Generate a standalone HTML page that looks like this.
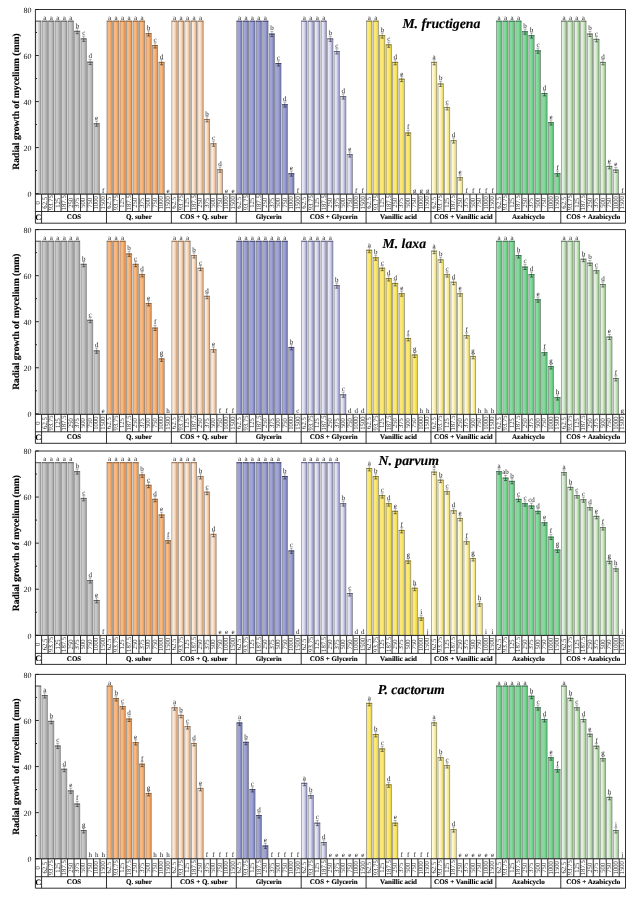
<!DOCTYPE html><html><head><meta charset="utf-8"><style>html,body{margin:0;padding:0;background:#fff;}svg{display:block;}text{font-family:"Liberation Serif",serif;text-rendering:geometricPrecision;}</style></head><body>
<svg style="will-change:transform" width="634" height="897" viewBox="0 0 634 897">
<defs>
<linearGradient id="gC" x1="0" y1="0" x2="1" y2="0"><stop offset="0" stop-color="#dcdcdc"/><stop offset="0.3" stop-color="#f2f2f2"/><stop offset="1" stop-color="#a8a8a8"/></linearGradient>
<linearGradient id="gCOS" x1="0" y1="0" x2="1" y2="0"><stop offset="0" stop-color="#cecece"/><stop offset="0.5" stop-color="#c4c4c4"/><stop offset="1" stop-color="#9c9c9c"/></linearGradient>
<linearGradient id="gQ" x1="0" y1="0" x2="1" y2="0"><stop offset="0" stop-color="#f2b486"/><stop offset="0.45" stop-color="#f8bb80"/><stop offset="1" stop-color="#e68c48"/></linearGradient>
<linearGradient id="gCQ" x1="0" y1="0" x2="1" y2="0"><stop offset="0" stop-color="#fff4ea"/><stop offset="0.45" stop-color="#fbe2ca"/><stop offset="1" stop-color="#e2a470"/></linearGradient>
<linearGradient id="gG" x1="0" y1="0" x2="1" y2="0"><stop offset="0" stop-color="#a8acda"/><stop offset="0.5" stop-color="#9ca0d2"/><stop offset="1" stop-color="#6870b6"/></linearGradient>
<linearGradient id="gCG" x1="0" y1="0" x2="1" y2="0"><stop offset="0" stop-color="#efeffa"/><stop offset="0.45" stop-color="#dcdcf0"/><stop offset="1" stop-color="#8a8ec6"/></linearGradient>
<linearGradient id="gV" x1="0" y1="0" x2="1" y2="0"><stop offset="0" stop-color="#f7e480"/><stop offset="0.5" stop-color="#fbeb74"/><stop offset="1" stop-color="#eacf34"/></linearGradient>
<linearGradient id="gCV" x1="0" y1="0" x2="1" y2="0"><stop offset="0" stop-color="#fffff2"/><stop offset="0.45" stop-color="#fdf5c2"/><stop offset="1" stop-color="#ecda56"/></linearGradient>
<linearGradient id="gA" x1="0" y1="0" x2="1" y2="0"><stop offset="0" stop-color="#8ee0a4"/><stop offset="0.5" stop-color="#80d898"/><stop offset="1" stop-color="#50ba6a"/></linearGradient>
<linearGradient id="gCA" x1="0" y1="0" x2="1" y2="0"><stop offset="0" stop-color="#eef8ec"/><stop offset="0.45" stop-color="#d9ecd3"/><stop offset="1" stop-color="#86c276"/></linearGradient>
</defs>
<rect x="0" y="0" width="634" height="897" fill="#fff"/>
<g stroke="#777" stroke-width="0.6"><rect x="35.60" y="21.01" width="5.3" height="173.09" fill="url(#gC)"/><rect x="42.09" y="21.01" width="5.3" height="173.09" fill="url(#gCOS)"/><rect x="48.58" y="21.01" width="5.3" height="173.09" fill="url(#gCOS)"/><rect x="55.07" y="21.01" width="5.3" height="173.09" fill="url(#gCOS)"/><rect x="61.56" y="21.01" width="5.3" height="173.09" fill="url(#gCOS)"/><rect x="68.05" y="21.01" width="5.3" height="173.09" fill="url(#gCOS)"/><rect x="74.54" y="31.13" width="5.3" height="162.97" fill="url(#gCOS)"/><rect x="81.03" y="38.73" width="5.3" height="155.37" fill="url(#gCOS)"/><rect x="87.52" y="61.97" width="5.3" height="132.13" fill="url(#gCOS)"/><rect x="94.01" y="123.64" width="5.3" height="70.46" fill="url(#gCOS)"/><rect x="106.99" y="21.01" width="5.3" height="173.09" fill="url(#gQ)"/><rect x="113.48" y="21.01" width="5.3" height="173.09" fill="url(#gQ)"/><rect x="119.97" y="21.01" width="5.3" height="173.09" fill="url(#gQ)"/><rect x="126.46" y="21.01" width="5.3" height="173.09" fill="url(#gQ)"/><rect x="132.95" y="21.01" width="5.3" height="173.09" fill="url(#gQ)"/><rect x="139.44" y="21.01" width="5.3" height="173.09" fill="url(#gQ)"/><rect x="145.93" y="33.43" width="5.3" height="160.67" fill="url(#gQ)"/><rect x="152.42" y="45.40" width="5.3" height="148.70" fill="url(#gQ)"/><rect x="158.91" y="62.20" width="5.3" height="131.90" fill="url(#gQ)"/><rect x="171.89" y="21.01" width="5.3" height="173.09" fill="url(#gCQ)"/><rect x="178.38" y="21.01" width="5.3" height="173.09" fill="url(#gCQ)"/><rect x="184.87" y="21.01" width="5.3" height="173.09" fill="url(#gCQ)"/><rect x="191.36" y="21.01" width="5.3" height="173.09" fill="url(#gCQ)"/><rect x="197.85" y="21.01" width="5.3" height="173.09" fill="url(#gCQ)"/><rect x="204.34" y="119.27" width="5.3" height="74.83" fill="url(#gCQ)"/><rect x="210.83" y="143.66" width="5.3" height="50.44" fill="url(#gCQ)"/><rect x="217.32" y="169.67" width="5.3" height="24.43" fill="url(#gCQ)"/><rect x="236.79" y="21.01" width="5.3" height="173.09" fill="url(#gG)"/><rect x="243.28" y="21.01" width="5.3" height="173.09" fill="url(#gG)"/><rect x="249.77" y="21.01" width="5.3" height="173.09" fill="url(#gG)"/><rect x="256.26" y="21.01" width="5.3" height="173.09" fill="url(#gG)"/><rect x="262.75" y="21.01" width="5.3" height="173.09" fill="url(#gG)"/><rect x="269.24" y="33.89" width="5.3" height="160.21" fill="url(#gG)"/><rect x="275.73" y="63.35" width="5.3" height="130.75" fill="url(#gG)"/><rect x="282.22" y="104.54" width="5.3" height="89.56" fill="url(#gG)"/><rect x="288.71" y="173.58" width="5.3" height="20.52" fill="url(#gG)"/><rect x="301.69" y="21.01" width="5.3" height="173.09" fill="url(#gCG)"/><rect x="308.18" y="21.01" width="5.3" height="173.09" fill="url(#gCG)"/><rect x="314.67" y="21.01" width="5.3" height="173.09" fill="url(#gCG)"/><rect x="321.16" y="21.01" width="5.3" height="173.09" fill="url(#gCG)"/><rect x="327.65" y="38.73" width="5.3" height="155.37" fill="url(#gCG)"/><rect x="334.14" y="51.38" width="5.3" height="142.72" fill="url(#gCG)"/><rect x="340.63" y="96.49" width="5.3" height="97.61" fill="url(#gCG)"/><rect x="347.12" y="154.48" width="5.3" height="39.62" fill="url(#gCG)"/><rect x="366.59" y="21.01" width="5.3" height="173.09" fill="url(#gV)"/><rect x="373.08" y="21.01" width="5.3" height="173.09" fill="url(#gV)"/><rect x="379.57" y="35.50" width="5.3" height="158.60" fill="url(#gV)"/><rect x="386.06" y="44.71" width="5.3" height="149.39" fill="url(#gV)"/><rect x="392.55" y="62.20" width="5.3" height="131.90" fill="url(#gV)"/><rect x="399.04" y="79.00" width="5.3" height="115.10" fill="url(#gV)"/><rect x="405.53" y="132.85" width="5.3" height="61.25" fill="url(#gV)"/><rect x="431.49" y="62.20" width="5.3" height="131.90" fill="url(#gCV)"/><rect x="437.98" y="83.83" width="5.3" height="110.27" fill="url(#gCV)"/><rect x="444.47" y="107.30" width="5.3" height="86.80" fill="url(#gCV)"/><rect x="450.96" y="140.44" width="5.3" height="53.66" fill="url(#gCV)"/><rect x="457.45" y="177.49" width="5.3" height="16.61" fill="url(#gCV)"/><rect x="496.39" y="21.01" width="5.3" height="173.09" fill="url(#gA)"/><rect x="502.88" y="21.01" width="5.3" height="173.09" fill="url(#gA)"/><rect x="509.37" y="21.01" width="5.3" height="173.09" fill="url(#gA)"/><rect x="515.86" y="21.01" width="5.3" height="173.09" fill="url(#gA)"/><rect x="522.35" y="31.59" width="5.3" height="162.51" fill="url(#gA)"/><rect x="528.84" y="35.50" width="5.3" height="158.60" fill="url(#gA)"/><rect x="535.33" y="50.69" width="5.3" height="143.41" fill="url(#gA)"/><rect x="541.82" y="93.27" width="5.3" height="100.83" fill="url(#gA)"/><rect x="548.31" y="122.49" width="5.3" height="71.61" fill="url(#gA)"/><rect x="554.80" y="173.58" width="5.3" height="20.52" fill="url(#gA)"/><rect x="561.29" y="21.01" width="5.3" height="173.09" fill="url(#gCA)"/><rect x="567.78" y="21.01" width="5.3" height="173.09" fill="url(#gCA)"/><rect x="574.27" y="21.01" width="5.3" height="173.09" fill="url(#gCA)"/><rect x="580.76" y="21.01" width="5.3" height="173.09" fill="url(#gCA)"/><rect x="587.25" y="33.89" width="5.3" height="160.21" fill="url(#gCA)"/><rect x="593.74" y="39.19" width="5.3" height="154.91" fill="url(#gCA)"/><rect x="600.23" y="62.20" width="5.3" height="131.90" fill="url(#gCA)"/><rect x="606.72" y="166.22" width="5.3" height="27.88" fill="url(#gCA)"/><rect x="613.21" y="169.90" width="5.3" height="24.20" fill="url(#gCA)"/></g>
<g stroke-width="0.8" fill="none"><path d="M35.40 21.21H41.10" stroke="#505050"/><path d="M41.89 21.21H47.59" stroke="#505050"/><path d="M48.38 21.21H54.08" stroke="#505050"/><path d="M54.87 21.21H60.57" stroke="#505050"/><path d="M61.36 21.21H67.06" stroke="#505050"/><path d="M67.85 21.21H73.55" stroke="#505050"/><path d="M74.34 31.33H80.04" stroke="#505050"/><path d="M80.83 38.93H86.53" stroke="#505050"/><path d="M87.32 62.17H93.02" stroke="#505050"/><path d="M93.81 123.84H99.51" stroke="#505050"/><path d="M106.79 21.21H112.49" stroke="#a05a20"/><path d="M113.28 21.21H118.98" stroke="#a05a20"/><path d="M119.77 21.21H125.47" stroke="#a05a20"/><path d="M126.26 21.21H131.96" stroke="#a05a20"/><path d="M132.75 21.21H138.45" stroke="#a05a20"/><path d="M139.24 21.21H144.94" stroke="#a05a20"/><path d="M145.73 33.63H151.43" stroke="#a05a20"/><path d="M152.22 45.60H157.92" stroke="#a05a20"/><path d="M158.71 62.40H164.41" stroke="#a05a20"/><path d="M171.69 21.21H177.39" stroke="#a06a40"/><path d="M178.18 21.21H183.88" stroke="#a06a40"/><path d="M184.67 21.21H190.37" stroke="#a06a40"/><path d="M191.16 21.21H196.86" stroke="#a06a40"/><path d="M197.65 21.21H203.35" stroke="#a06a40"/><path d="M204.14 119.47H209.84" stroke="#a06a40"/><path d="M210.63 143.86H216.33" stroke="#a06a40"/><path d="M217.12 169.87H222.82" stroke="#a06a40"/><path d="M236.59 21.21H242.29" stroke="#303068"/><path d="M243.08 21.21H248.78" stroke="#303068"/><path d="M249.57 21.21H255.27" stroke="#303068"/><path d="M256.06 21.21H261.76" stroke="#303068"/><path d="M262.55 21.21H268.25" stroke="#303068"/><path d="M269.04 34.09H274.74" stroke="#303068"/><path d="M275.53 63.55H281.23" stroke="#303068"/><path d="M282.02 104.74H287.72" stroke="#303068"/><path d="M288.51 173.78H294.21" stroke="#303068"/><path d="M301.49 21.21H307.19" stroke="#505080"/><path d="M307.98 21.21H313.68" stroke="#505080"/><path d="M314.47 21.21H320.17" stroke="#505080"/><path d="M320.96 21.21H326.66" stroke="#505080"/><path d="M327.45 38.93H333.15" stroke="#505080"/><path d="M333.94 51.58H339.64" stroke="#505080"/><path d="M340.43 96.69H346.13" stroke="#505080"/><path d="M346.92 154.68H352.62" stroke="#505080"/><path d="M366.39 21.21H372.09" stroke="#8a7a10"/><path d="M372.88 21.21H378.58" stroke="#8a7a10"/><path d="M379.37 35.70H385.07" stroke="#8a7a10"/><path d="M385.86 44.91H391.56" stroke="#8a7a10"/><path d="M392.35 62.40H398.05" stroke="#8a7a10"/><path d="M398.84 79.20H404.54" stroke="#8a7a10"/><path d="M405.33 133.05H411.03" stroke="#8a7a10"/><path d="M431.29 62.40H436.99" stroke="#8a8030"/><path d="M437.78 84.03H443.48" stroke="#8a8030"/><path d="M444.27 107.50H449.97" stroke="#8a8030"/><path d="M450.76 140.64H456.46" stroke="#8a8030"/><path d="M457.25 177.69H462.95" stroke="#8a8030"/><path d="M496.19 21.21H501.89" stroke="#207040"/><path d="M502.68 21.21H508.38" stroke="#207040"/><path d="M509.17 21.21H514.87" stroke="#207040"/><path d="M515.66 21.21H521.36" stroke="#207040"/><path d="M522.15 31.79H527.85" stroke="#207040"/><path d="M528.64 35.70H534.34" stroke="#207040"/><path d="M535.13 50.89H540.83" stroke="#207040"/><path d="M541.62 93.47H547.32" stroke="#207040"/><path d="M548.11 122.69H553.81" stroke="#207040"/><path d="M554.60 173.78H560.30" stroke="#207040"/><path d="M561.09 21.21H566.79" stroke="#507050"/><path d="M567.58 21.21H573.28" stroke="#507050"/><path d="M574.07 21.21H579.77" stroke="#507050"/><path d="M580.56 21.21H586.26" stroke="#507050"/><path d="M587.05 34.09H592.75" stroke="#507050"/><path d="M593.54 39.39H599.24" stroke="#507050"/><path d="M600.03 62.40H605.73" stroke="#507050"/><path d="M606.52 166.42H612.22" stroke="#507050"/><path d="M613.01 170.10H618.71" stroke="#507050"/></g>
<g stroke="#1a1a1a" stroke-width="0.55" fill="none"><path d="M75.59 28.53H78.79M77.19 28.53V31.13" stroke="#555" stroke-width="0.45"/><path d="M77.19 31.13V33.73M75.59 33.73H78.79"/><path d="M82.08 36.13H85.28M83.68 36.13V38.73" stroke="#555" stroke-width="0.45"/><path d="M83.68 38.73V41.33M82.08 41.33H85.28"/><path d="M88.57 59.37H91.77M90.17 59.37V61.97" stroke="#555" stroke-width="0.45"/><path d="M90.17 61.97V64.57M88.57 64.57H91.77"/><path d="M95.06 121.04H98.26M96.66 121.04V123.64" stroke="#555" stroke-width="0.45"/><path d="M96.66 123.64V126.24M95.06 126.24H98.26"/><path d="M146.98 30.83H150.18M148.58 30.83V33.43" stroke="#555" stroke-width="0.45"/><path d="M148.58 33.43V36.03M146.98 36.03H150.18"/><path d="M153.47 42.80H156.67M155.07 42.80V45.40" stroke="#555" stroke-width="0.45"/><path d="M155.07 45.40V48.00M153.47 48.00H156.67"/><path d="M159.96 59.60H163.16M161.56 59.60V62.20" stroke="#555" stroke-width="0.45"/><path d="M161.56 62.20V64.80M159.96 64.80H163.16"/><path d="M205.39 116.67H208.59M206.99 116.67V119.27" stroke="#555" stroke-width="0.45"/><path d="M206.99 119.27V121.87M205.39 121.87H208.59"/><path d="M211.88 141.06H215.08M213.48 141.06V143.66" stroke="#555" stroke-width="0.45"/><path d="M213.48 143.66V146.26M211.88 146.26H215.08"/><path d="M218.37 167.07H221.57M219.97 167.07V169.67" stroke="#555" stroke-width="0.45"/><path d="M219.97 169.67V172.27M218.37 172.27H221.57"/><path d="M270.29 31.29H273.49M271.89 31.29V33.89" stroke="#555" stroke-width="0.45"/><path d="M271.89 33.89V36.49M270.29 36.49H273.49"/><path d="M276.78 60.75H279.98M278.38 60.75V63.35" stroke="#555" stroke-width="0.45"/><path d="M278.38 63.35V65.95M276.78 65.95H279.98"/><path d="M283.27 101.94H286.47M284.87 101.94V104.54" stroke="#555" stroke-width="0.45"/><path d="M284.87 104.54V107.14M283.27 107.14H286.47"/><path d="M289.76 170.98H292.96M291.36 170.98V173.58" stroke="#555" stroke-width="0.45"/><path d="M291.36 173.58V176.18M289.76 176.18H292.96"/><path d="M328.70 36.13H331.90M330.30 36.13V38.73" stroke="#555" stroke-width="0.45"/><path d="M330.30 38.73V41.33M328.70 41.33H331.90"/><path d="M335.19 48.78H338.39M336.79 48.78V51.38" stroke="#555" stroke-width="0.45"/><path d="M336.79 51.38V53.98M335.19 53.98H338.39"/><path d="M341.68 93.89H344.88M343.28 93.89V96.49" stroke="#555" stroke-width="0.45"/><path d="M343.28 96.49V99.09M341.68 99.09H344.88"/><path d="M348.17 151.88H351.37M349.77 151.88V154.48" stroke="#555" stroke-width="0.45"/><path d="M349.77 154.48V157.08M348.17 157.08H351.37"/><path d="M380.62 32.90H383.82M382.22 32.90V35.50" stroke="#555" stroke-width="0.45"/><path d="M382.22 35.50V38.10M380.62 38.10H383.82"/><path d="M387.11 42.11H390.31M388.71 42.11V44.71" stroke="#555" stroke-width="0.45"/><path d="M388.71 44.71V47.31M387.11 47.31H390.31"/><path d="M393.60 59.60H396.80M395.20 59.60V62.20" stroke="#555" stroke-width="0.45"/><path d="M395.20 62.20V64.80M393.60 64.80H396.80"/><path d="M400.09 76.40H403.29M401.69 76.40V79.00" stroke="#555" stroke-width="0.45"/><path d="M401.69 79.00V81.60M400.09 81.60H403.29"/><path d="M406.58 130.25H409.78M408.18 130.25V132.85" stroke="#555" stroke-width="0.45"/><path d="M408.18 132.85V135.45M406.58 135.45H409.78"/><path d="M432.54 59.60H435.74M434.14 59.60V62.20" stroke="#555" stroke-width="0.45"/><path d="M434.14 62.20V64.80M432.54 64.80H435.74"/><path d="M439.03 81.23H442.23M440.63 81.23V83.83" stroke="#555" stroke-width="0.45"/><path d="M440.63 83.83V86.43M439.03 86.43H442.23"/><path d="M445.52 104.70H448.72M447.12 104.70V107.30" stroke="#555" stroke-width="0.45"/><path d="M447.12 107.30V109.90M445.52 109.90H448.72"/><path d="M452.01 137.84H455.21M453.61 137.84V140.44" stroke="#555" stroke-width="0.45"/><path d="M453.61 140.44V143.04M452.01 143.04H455.21"/><path d="M458.50 174.89H461.70M460.10 174.89V177.49" stroke="#555" stroke-width="0.45"/><path d="M460.10 177.49V180.09M458.50 180.09H461.70"/><path d="M523.40 28.99H526.60M525.00 28.99V31.59" stroke="#555" stroke-width="0.45"/><path d="M525.00 31.59V34.19M523.40 34.19H526.60"/><path d="M529.89 32.90H533.09M531.49 32.90V35.50" stroke="#555" stroke-width="0.45"/><path d="M531.49 35.50V38.10M529.89 38.10H533.09"/><path d="M536.38 48.09H539.58M537.98 48.09V50.69" stroke="#555" stroke-width="0.45"/><path d="M537.98 50.69V53.29M536.38 53.29H539.58"/><path d="M542.87 90.67H546.07M544.47 90.67V93.27" stroke="#555" stroke-width="0.45"/><path d="M544.47 93.27V95.87M542.87 95.87H546.07"/><path d="M549.36 119.89H552.56M550.96 119.89V122.49" stroke="#555" stroke-width="0.45"/><path d="M550.96 122.49V125.09M549.36 125.09H552.56"/><path d="M555.85 170.98H559.05M557.45 170.98V173.58" stroke="#555" stroke-width="0.45"/><path d="M557.45 173.58V176.18M555.85 176.18H559.05"/><path d="M588.30 31.29H591.50M589.90 31.29V33.89" stroke="#555" stroke-width="0.45"/><path d="M589.90 33.89V36.49M588.30 36.49H591.50"/><path d="M594.79 36.59H597.99M596.39 36.59V39.19" stroke="#555" stroke-width="0.45"/><path d="M596.39 39.19V41.79M594.79 41.79H597.99"/><path d="M601.28 59.60H604.48M602.88 59.60V62.20" stroke="#555" stroke-width="0.45"/><path d="M602.88 62.20V64.80M601.28 64.80H604.48"/><path d="M607.77 163.62H610.97M609.37 163.62V166.22" stroke="#555" stroke-width="0.45"/><path d="M609.37 166.22V168.82M607.77 168.82H610.97"/><path d="M614.26 167.30H617.46M615.86 167.30V169.90" stroke="#555" stroke-width="0.45"/><path d="M615.86 169.90V172.50M614.26 172.50H617.46"/></g>
<g font-size="7" fill="#1a1a1a" text-anchor="middle"><text x="44.74" y="19.86">a</text><text x="51.23" y="19.86">a</text><text x="57.72" y="19.86">a</text><text x="64.21" y="19.86">a</text><text x="70.70" y="19.86">a</text><text x="77.19" y="27.63">b</text><text x="83.68" y="35.23">c</text><text x="90.17" y="58.47">d</text><text x="96.66" y="120.14">e</text><text x="103.15" y="192.60">f</text><text x="109.64" y="19.86">a</text><text x="116.13" y="19.86">a</text><text x="122.62" y="19.86">a</text><text x="129.11" y="19.86">a</text><text x="135.60" y="19.86">a</text><text x="142.09" y="19.86">a</text><text x="148.58" y="29.93">b</text><text x="155.07" y="41.90">c</text><text x="161.56" y="58.70">d</text><text x="168.05" y="192.60">e</text><text x="174.54" y="19.86">a</text><text x="181.03" y="19.86">a</text><text x="187.52" y="19.86">a</text><text x="194.01" y="19.86">a</text><text x="200.50" y="19.86">a</text><text x="206.99" y="115.77">b</text><text x="213.48" y="140.16">c</text><text x="219.97" y="166.17">d</text><text x="226.46" y="192.60">e</text><text x="232.95" y="192.60">e</text><text x="239.44" y="19.86">a</text><text x="245.93" y="19.86">a</text><text x="252.42" y="19.86">a</text><text x="258.91" y="19.86">a</text><text x="265.40" y="19.86">a</text><text x="271.89" y="30.39">b</text><text x="278.38" y="59.85">c</text><text x="284.87" y="101.04">d</text><text x="291.36" y="170.08">e</text><text x="297.85" y="192.60">f</text><text x="304.34" y="19.86">a</text><text x="310.83" y="19.86">a</text><text x="317.32" y="19.86">a</text><text x="323.81" y="19.86">a</text><text x="330.30" y="35.23">b</text><text x="336.79" y="47.88">c</text><text x="343.28" y="92.99">d</text><text x="349.77" y="150.98">e</text><text x="356.26" y="192.60">f</text><text x="362.75" y="192.60">f</text><text x="369.24" y="19.86">a</text><text x="375.73" y="19.86">a</text><text x="382.22" y="32.00">b</text><text x="388.71" y="41.21">c</text><text x="395.20" y="58.70">d</text><text x="401.69" y="75.50">e</text><text x="408.18" y="129.35">f</text><text x="414.67" y="192.60">g</text><text x="421.16" y="192.60">g</text><text x="427.65" y="192.60">g</text><text x="434.14" y="58.70">a</text><text x="440.63" y="80.33">b</text><text x="447.12" y="103.80">c</text><text x="453.61" y="136.94">d</text><text x="460.10" y="173.99">e</text><text x="466.59" y="192.60">f</text><text x="473.08" y="192.60">f</text><text x="479.57" y="192.60">f</text><text x="486.06" y="192.60">f</text><text x="492.55" y="192.60">f</text><text x="499.04" y="19.86">a</text><text x="505.53" y="19.86">a</text><text x="512.02" y="19.86">a</text><text x="518.51" y="19.86">a</text><text x="525.00" y="28.09">b</text><text x="531.49" y="32.00">b</text><text x="537.98" y="47.19">c</text><text x="544.47" y="89.77">d</text><text x="550.96" y="118.99">e</text><text x="557.45" y="170.08">f</text><text x="563.94" y="19.86">a</text><text x="570.43" y="19.86">a</text><text x="576.92" y="19.86">a</text><text x="583.41" y="19.86">a</text><text x="589.90" y="30.39">b</text><text x="596.39" y="35.69">c</text><text x="602.88" y="58.70">d</text><text x="609.37" y="162.72">e</text><text x="615.86" y="166.40">e</text><text x="622.35" y="192.60">f</text></g>
<path d="M35.4 9.5H625.5M35.4 194.1H625.5M35.4 211.5H625.5M35.4 223.2H625.5M35.4 9.5V223.2M625.5 9.5V223.2M41.59 194.1V211.5M48.08 194.1V211.5M54.57 194.1V211.5M61.06 194.1V211.5M67.55 194.1V211.5M74.04 194.1V211.5M80.53 194.1V211.5M87.02 194.1V211.5M93.51 194.1V211.5M100.00 194.1V211.5M106.49 194.1V211.5M112.98 194.1V211.5M119.47 194.1V211.5M125.96 194.1V211.5M132.45 194.1V211.5M138.94 194.1V211.5M145.43 194.1V211.5M151.92 194.1V211.5M158.41 194.1V211.5M164.90 194.1V211.5M171.39 194.1V211.5M177.88 194.1V211.5M184.37 194.1V211.5M190.86 194.1V211.5M197.35 194.1V211.5M203.84 194.1V211.5M210.33 194.1V211.5M216.82 194.1V211.5M223.31 194.1V211.5M229.80 194.1V211.5M236.29 194.1V211.5M242.78 194.1V211.5M249.27 194.1V211.5M255.76 194.1V211.5M262.25 194.1V211.5M268.74 194.1V211.5M275.23 194.1V211.5M281.72 194.1V211.5M288.21 194.1V211.5M294.70 194.1V211.5M301.19 194.1V211.5M307.68 194.1V211.5M314.17 194.1V211.5M320.66 194.1V211.5M327.15 194.1V211.5M333.64 194.1V211.5M340.13 194.1V211.5M346.62 194.1V211.5M353.11 194.1V211.5M359.60 194.1V211.5M366.09 194.1V211.5M372.58 194.1V211.5M379.07 194.1V211.5M385.56 194.1V211.5M392.05 194.1V211.5M398.54 194.1V211.5M405.03 194.1V211.5M411.52 194.1V211.5M418.01 194.1V211.5M424.50 194.1V211.5M430.99 194.1V211.5M437.48 194.1V211.5M443.97 194.1V211.5M450.46 194.1V211.5M456.95 194.1V211.5M463.44 194.1V211.5M469.93 194.1V211.5M476.42 194.1V211.5M482.91 194.1V211.5M489.40 194.1V211.5M495.89 194.1V211.5M502.38 194.1V211.5M508.87 194.1V211.5M515.36 194.1V211.5M521.85 194.1V211.5M528.34 194.1V211.5M534.83 194.1V211.5M541.32 194.1V211.5M547.81 194.1V211.5M554.30 194.1V211.5M560.79 194.1V211.5M567.28 194.1V211.5M573.77 194.1V211.5M580.26 194.1V211.5M586.75 194.1V211.5M593.24 194.1V211.5M599.73 194.1V211.5M606.22 194.1V211.5M612.71 194.1V211.5M619.20 194.1V211.5M41.59 211.5V223.2M106.49 211.5V223.2M171.39 211.5V223.2M236.29 211.5V223.2M301.19 211.5V223.2M366.09 211.5V223.2M430.99 211.5V223.2M495.89 211.5V223.2M560.79 211.5V223.2M35.4 193.60h3.4M35.4 170.59h1.6M35.4 147.57h3.4M35.4 124.56h1.6M35.4 101.55h3.4M35.4 78.54h1.6M35.4 55.53h3.4M35.4 32.51h1.6M35.4 9.50h3.4" stroke="#1a1a1a" stroke-width="0.9" fill="none"/>
<g font-size="8" fill="#111" text-anchor="end"><text x="31.4" y="196.80">0</text><text x="31.4" y="150.77">20</text><text x="31.4" y="104.75">40</text><text x="31.4" y="58.73">60</text><text x="31.4" y="12.70">80</text></g>
<g font-size="6.7" fill="#2a2a2a" text-anchor="middle"><text transform="translate(40.05 202.80) rotate(-90)">0</text><text transform="translate(46.54 202.80) rotate(-90)">62.5</text><text transform="translate(53.02 202.80) rotate(-90)">93.75</text><text transform="translate(59.52 202.80) rotate(-90)">125</text><text transform="translate(66.01 202.80) rotate(-90)">187.5</text><text transform="translate(72.50 202.80) rotate(-90)">250</text><text transform="translate(78.98 202.80) rotate(-90)">375</text><text transform="translate(85.48 202.80) rotate(-90)">500</text><text transform="translate(91.97 202.80) rotate(-90)">750</text><text transform="translate(98.46 202.80) rotate(-90)">1000</text><text transform="translate(104.95 202.80) rotate(-90)">1500</text><text transform="translate(111.44 202.80) rotate(-90)">62.5</text><text transform="translate(117.92 202.80) rotate(-90)">93.75</text><text transform="translate(124.42 202.80) rotate(-90)">125</text><text transform="translate(130.91 202.80) rotate(-90)">187.5</text><text transform="translate(137.40 202.80) rotate(-90)">250</text><text transform="translate(143.88 202.80) rotate(-90)">375</text><text transform="translate(150.38 202.80) rotate(-90)">500</text><text transform="translate(156.87 202.80) rotate(-90)">750</text><text transform="translate(163.35 202.80) rotate(-90)">1000</text><text transform="translate(169.84 202.80) rotate(-90)">1500</text><text transform="translate(176.33 202.80) rotate(-90)">62.5</text><text transform="translate(182.82 202.80) rotate(-90)">93.75</text><text transform="translate(189.31 202.80) rotate(-90)">125</text><text transform="translate(195.80 202.80) rotate(-90)">187.5</text><text transform="translate(202.29 202.80) rotate(-90)">250</text><text transform="translate(208.78 202.80) rotate(-90)">375</text><text transform="translate(215.28 202.80) rotate(-90)">500</text><text transform="translate(221.76 202.80) rotate(-90)">750</text><text transform="translate(228.25 202.80) rotate(-90)">1000</text><text transform="translate(234.75 202.80) rotate(-90)">1500</text><text transform="translate(241.23 202.80) rotate(-90)">62.5</text><text transform="translate(247.72 202.80) rotate(-90)">93.75</text><text transform="translate(254.22 202.80) rotate(-90)">125</text><text transform="translate(260.70 202.80) rotate(-90)">187.5</text><text transform="translate(267.19 202.80) rotate(-90)">250</text><text transform="translate(273.69 202.80) rotate(-90)">375</text><text transform="translate(280.18 202.80) rotate(-90)">500</text><text transform="translate(286.67 202.80) rotate(-90)">750</text><text transform="translate(293.16 202.80) rotate(-90)">1000</text><text transform="translate(299.65 202.80) rotate(-90)">1500</text><text transform="translate(306.14 202.80) rotate(-90)">62.5</text><text transform="translate(312.62 202.80) rotate(-90)">93.75</text><text transform="translate(319.12 202.80) rotate(-90)">125</text><text transform="translate(325.61 202.80) rotate(-90)">187.5</text><text transform="translate(332.10 202.80) rotate(-90)">250</text><text transform="translate(338.59 202.80) rotate(-90)">375</text><text transform="translate(345.08 202.80) rotate(-90)">500</text><text transform="translate(351.56 202.80) rotate(-90)">750</text><text transform="translate(358.06 202.80) rotate(-90)">1000</text><text transform="translate(364.55 202.80) rotate(-90)">1500</text><text transform="translate(371.04 202.80) rotate(-90)">62.5</text><text transform="translate(377.53 202.80) rotate(-90)">93.75</text><text transform="translate(384.02 202.80) rotate(-90)">125</text><text transform="translate(390.51 202.80) rotate(-90)">187.5</text><text transform="translate(397.00 202.80) rotate(-90)">250</text><text transform="translate(403.49 202.80) rotate(-90)">375</text><text transform="translate(409.98 202.80) rotate(-90)">500</text><text transform="translate(416.47 202.80) rotate(-90)">750</text><text transform="translate(422.96 202.80) rotate(-90)">1000</text><text transform="translate(429.45 202.80) rotate(-90)">1500</text><text transform="translate(435.94 202.80) rotate(-90)">62.5</text><text transform="translate(442.43 202.80) rotate(-90)">93.75</text><text transform="translate(448.92 202.80) rotate(-90)">125</text><text transform="translate(455.41 202.80) rotate(-90)">187.5</text><text transform="translate(461.90 202.80) rotate(-90)">250</text><text transform="translate(468.39 202.80) rotate(-90)">375</text><text transform="translate(474.88 202.80) rotate(-90)">500</text><text transform="translate(481.37 202.80) rotate(-90)">750</text><text transform="translate(487.86 202.80) rotate(-90)">1000</text><text transform="translate(494.35 202.80) rotate(-90)">1500</text><text transform="translate(500.84 202.80) rotate(-90)">62.5</text><text transform="translate(507.33 202.80) rotate(-90)">93.75</text><text transform="translate(513.82 202.80) rotate(-90)">125</text><text transform="translate(520.31 202.80) rotate(-90)">187.5</text><text transform="translate(526.80 202.80) rotate(-90)">250</text><text transform="translate(533.29 202.80) rotate(-90)">375</text><text transform="translate(539.78 202.80) rotate(-90)">500</text><text transform="translate(546.27 202.80) rotate(-90)">750</text><text transform="translate(552.76 202.80) rotate(-90)">1000</text><text transform="translate(559.25 202.80) rotate(-90)">1500</text><text transform="translate(565.74 202.80) rotate(-90)">62.5</text><text transform="translate(572.23 202.80) rotate(-90)">93.75</text><text transform="translate(578.72 202.80) rotate(-90)">125</text><text transform="translate(585.21 202.80) rotate(-90)">187.5</text><text transform="translate(591.70 202.80) rotate(-90)">250</text><text transform="translate(598.19 202.80) rotate(-90)">375</text><text transform="translate(604.68 202.80) rotate(-90)">500</text><text transform="translate(611.17 202.80) rotate(-90)">750</text><text transform="translate(617.66 202.80) rotate(-90)">1000</text><text transform="translate(624.15 202.80) rotate(-90)">1500</text></g>
<g font-size="7.0" font-weight="bold" fill="#000" stroke="#000" stroke-width="0.12" text-anchor="middle"><text x="38.39" y="220.10" font-size="8.4" stroke-width="0.05">C</text><text x="74.04" y="219.30">COS</text><text x="138.94" y="219.30">Q. suber</text><text x="203.84" y="219.30">COS + Q. suber</text><text x="268.74" y="219.30">Glycerin</text><text x="333.64" y="219.30">COS + Glycerin</text><text x="398.54" y="219.30">Vanillic acid</text><text x="463.44" y="219.30">COS + Vanillic acid</text><text x="528.34" y="219.30">Azabicyclo</text><text x="593.24" y="219.30">COS + Azabicyclo</text></g>
<text transform="translate(19.3 101.55) rotate(-90)" font-size="9.6" font-weight="bold" fill="#000" stroke="#000" stroke-width="0.15" text-anchor="middle">Radial growth of mycelium (mm)</text>
<text x="402.4" y="27.7" font-size="13.75" font-weight="bold" font-style="italic" fill="#000" stroke="#000" stroke-width="0.15">M. fructigena</text>
<g stroke="#777" stroke-width="0.6"><rect x="35.60" y="241.11" width="5.3" height="173.19" fill="url(#gC)"/><rect x="42.09" y="241.11" width="5.3" height="173.19" fill="url(#gCOS)"/><rect x="48.58" y="241.11" width="5.3" height="173.19" fill="url(#gCOS)"/><rect x="55.07" y="241.11" width="5.3" height="173.19" fill="url(#gCOS)"/><rect x="61.56" y="241.11" width="5.3" height="173.19" fill="url(#gCOS)"/><rect x="68.05" y="241.11" width="5.3" height="173.19" fill="url(#gCOS)"/><rect x="74.54" y="241.11" width="5.3" height="173.19" fill="url(#gCOS)"/><rect x="81.03" y="264.14" width="5.3" height="150.16" fill="url(#gCOS)"/><rect x="87.52" y="320.09" width="5.3" height="94.21" fill="url(#gCOS)"/><rect x="94.01" y="350.71" width="5.3" height="63.59" fill="url(#gCOS)"/><rect x="106.99" y="241.11" width="5.3" height="173.19" fill="url(#gQ)"/><rect x="113.48" y="241.11" width="5.3" height="173.19" fill="url(#gQ)"/><rect x="119.97" y="241.11" width="5.3" height="173.19" fill="url(#gQ)"/><rect x="126.46" y="253.78" width="5.3" height="160.52" fill="url(#gQ)"/><rect x="132.95" y="264.14" width="5.3" height="150.16" fill="url(#gQ)"/><rect x="139.44" y="274.27" width="5.3" height="140.03" fill="url(#gQ)"/><rect x="145.93" y="303.28" width="5.3" height="111.02" fill="url(#gQ)"/><rect x="152.42" y="327.92" width="5.3" height="86.38" fill="url(#gQ)"/><rect x="158.91" y="358.77" width="5.3" height="55.53" fill="url(#gQ)"/><rect x="171.89" y="241.11" width="5.3" height="173.19" fill="url(#gCQ)"/><rect x="178.38" y="241.11" width="5.3" height="173.19" fill="url(#gCQ)"/><rect x="184.87" y="241.11" width="5.3" height="173.19" fill="url(#gCQ)"/><rect x="191.36" y="255.39" width="5.3" height="158.91" fill="url(#gCQ)"/><rect x="197.85" y="268.05" width="5.3" height="146.25" fill="url(#gCQ)"/><rect x="204.34" y="296.14" width="5.3" height="118.16" fill="url(#gCQ)"/><rect x="210.83" y="349.56" width="5.3" height="64.74" fill="url(#gCQ)"/><rect x="236.79" y="241.11" width="5.3" height="173.19" fill="url(#gG)"/><rect x="243.28" y="241.11" width="5.3" height="173.19" fill="url(#gG)"/><rect x="249.77" y="241.11" width="5.3" height="173.19" fill="url(#gG)"/><rect x="256.26" y="241.11" width="5.3" height="173.19" fill="url(#gG)"/><rect x="262.75" y="241.11" width="5.3" height="173.19" fill="url(#gG)"/><rect x="269.24" y="241.11" width="5.3" height="173.19" fill="url(#gG)"/><rect x="275.73" y="241.11" width="5.3" height="173.19" fill="url(#gG)"/><rect x="282.22" y="241.11" width="5.3" height="173.19" fill="url(#gG)"/><rect x="288.71" y="347.26" width="5.3" height="67.04" fill="url(#gG)"/><rect x="301.69" y="241.11" width="5.3" height="173.19" fill="url(#gCG)"/><rect x="308.18" y="241.11" width="5.3" height="173.19" fill="url(#gCG)"/><rect x="314.67" y="241.11" width="5.3" height="173.19" fill="url(#gCG)"/><rect x="321.16" y="241.11" width="5.3" height="173.19" fill="url(#gCG)"/><rect x="327.65" y="241.11" width="5.3" height="173.19" fill="url(#gCG)"/><rect x="334.14" y="285.55" width="5.3" height="128.75" fill="url(#gCG)"/><rect x="340.63" y="394.69" width="5.3" height="19.61" fill="url(#gCG)"/><rect x="366.59" y="250.09" width="5.3" height="164.21" fill="url(#gV)"/><rect x="373.08" y="257.69" width="5.3" height="156.61" fill="url(#gV)"/><rect x="379.57" y="268.05" width="5.3" height="146.25" fill="url(#gV)"/><rect x="386.06" y="278.41" width="5.3" height="135.89" fill="url(#gV)"/><rect x="392.55" y="283.25" width="5.3" height="131.05" fill="url(#gV)"/><rect x="399.04" y="293.61" width="5.3" height="120.69" fill="url(#gV)"/><rect x="405.53" y="338.28" width="5.3" height="76.02" fill="url(#gV)"/><rect x="412.02" y="354.86" width="5.3" height="59.44" fill="url(#gV)"/><rect x="431.49" y="251.01" width="5.3" height="163.29" fill="url(#gCV)"/><rect x="437.98" y="259.76" width="5.3" height="154.54" fill="url(#gCV)"/><rect x="444.47" y="274.50" width="5.3" height="139.80" fill="url(#gCV)"/><rect x="450.96" y="282.10" width="5.3" height="132.20" fill="url(#gCV)"/><rect x="457.45" y="293.61" width="5.3" height="120.69" fill="url(#gCV)"/><rect x="463.94" y="335.51" width="5.3" height="78.79" fill="url(#gCV)"/><rect x="470.43" y="356.24" width="5.3" height="58.06" fill="url(#gCV)"/><rect x="496.39" y="241.11" width="5.3" height="173.19" fill="url(#gA)"/><rect x="502.88" y="241.11" width="5.3" height="173.19" fill="url(#gA)"/><rect x="509.37" y="241.11" width="5.3" height="173.19" fill="url(#gA)"/><rect x="515.86" y="255.39" width="5.3" height="158.91" fill="url(#gA)"/><rect x="522.35" y="266.90" width="5.3" height="147.40" fill="url(#gA)"/><rect x="528.84" y="274.50" width="5.3" height="139.80" fill="url(#gA)"/><rect x="535.33" y="299.60" width="5.3" height="114.70" fill="url(#gA)"/><rect x="541.82" y="352.55" width="5.3" height="61.75" fill="url(#gA)"/><rect x="548.31" y="366.37" width="5.3" height="47.93" fill="url(#gA)"/><rect x="554.80" y="397.45" width="5.3" height="16.85" fill="url(#gA)"/><rect x="561.29" y="241.11" width="5.3" height="173.19" fill="url(#gCA)"/><rect x="567.78" y="241.11" width="5.3" height="173.19" fill="url(#gCA)"/><rect x="574.27" y="241.11" width="5.3" height="173.19" fill="url(#gCA)"/><rect x="580.76" y="259.07" width="5.3" height="155.23" fill="url(#gCA)"/><rect x="587.25" y="262.99" width="5.3" height="151.31" fill="url(#gCA)"/><rect x="593.74" y="270.58" width="5.3" height="143.72" fill="url(#gCA)"/><rect x="600.23" y="284.40" width="5.3" height="129.90" fill="url(#gCA)"/><rect x="606.72" y="336.90" width="5.3" height="77.40" fill="url(#gCA)"/><rect x="613.21" y="378.34" width="5.3" height="35.96" fill="url(#gCA)"/></g>
<g stroke-width="0.8" fill="none"><path d="M35.40 241.31H41.10" stroke="#505050"/><path d="M41.89 241.31H47.59" stroke="#505050"/><path d="M48.38 241.31H54.08" stroke="#505050"/><path d="M54.87 241.31H60.57" stroke="#505050"/><path d="M61.36 241.31H67.06" stroke="#505050"/><path d="M67.85 241.31H73.55" stroke="#505050"/><path d="M74.34 241.31H80.04" stroke="#505050"/><path d="M80.83 264.34H86.53" stroke="#505050"/><path d="M87.32 320.29H93.02" stroke="#505050"/><path d="M93.81 350.91H99.51" stroke="#505050"/><path d="M106.79 241.31H112.49" stroke="#a05a20"/><path d="M113.28 241.31H118.98" stroke="#a05a20"/><path d="M119.77 241.31H125.47" stroke="#a05a20"/><path d="M126.26 253.98H131.96" stroke="#a05a20"/><path d="M132.75 264.34H138.45" stroke="#a05a20"/><path d="M139.24 274.47H144.94" stroke="#a05a20"/><path d="M145.73 303.48H151.43" stroke="#a05a20"/><path d="M152.22 328.12H157.92" stroke="#a05a20"/><path d="M158.71 358.97H164.41" stroke="#a05a20"/><path d="M171.69 241.31H177.39" stroke="#a06a40"/><path d="M178.18 241.31H183.88" stroke="#a06a40"/><path d="M184.67 241.31H190.37" stroke="#a06a40"/><path d="M191.16 255.59H196.86" stroke="#a06a40"/><path d="M197.65 268.25H203.35" stroke="#a06a40"/><path d="M204.14 296.34H209.84" stroke="#a06a40"/><path d="M210.63 349.76H216.33" stroke="#a06a40"/><path d="M236.59 241.31H242.29" stroke="#303068"/><path d="M243.08 241.31H248.78" stroke="#303068"/><path d="M249.57 241.31H255.27" stroke="#303068"/><path d="M256.06 241.31H261.76" stroke="#303068"/><path d="M262.55 241.31H268.25" stroke="#303068"/><path d="M269.04 241.31H274.74" stroke="#303068"/><path d="M275.53 241.31H281.23" stroke="#303068"/><path d="M282.02 241.31H287.72" stroke="#303068"/><path d="M288.51 347.46H294.21" stroke="#303068"/><path d="M301.49 241.31H307.19" stroke="#505080"/><path d="M307.98 241.31H313.68" stroke="#505080"/><path d="M314.47 241.31H320.17" stroke="#505080"/><path d="M320.96 241.31H326.66" stroke="#505080"/><path d="M327.45 241.31H333.15" stroke="#505080"/><path d="M333.94 285.75H339.64" stroke="#505080"/><path d="M340.43 394.89H346.13" stroke="#505080"/><path d="M366.39 250.29H372.09" stroke="#8a7a10"/><path d="M372.88 257.89H378.58" stroke="#8a7a10"/><path d="M379.37 268.25H385.07" stroke="#8a7a10"/><path d="M385.86 278.61H391.56" stroke="#8a7a10"/><path d="M392.35 283.45H398.05" stroke="#8a7a10"/><path d="M398.84 293.81H404.54" stroke="#8a7a10"/><path d="M405.33 338.48H411.03" stroke="#8a7a10"/><path d="M411.82 355.06H417.52" stroke="#8a7a10"/><path d="M431.29 251.21H436.99" stroke="#8a8030"/><path d="M437.78 259.96H443.48" stroke="#8a8030"/><path d="M444.27 274.70H449.97" stroke="#8a8030"/><path d="M450.76 282.30H456.46" stroke="#8a8030"/><path d="M457.25 293.81H462.95" stroke="#8a8030"/><path d="M463.74 335.71H469.44" stroke="#8a8030"/><path d="M470.23 356.44H475.93" stroke="#8a8030"/><path d="M496.19 241.31H501.89" stroke="#207040"/><path d="M502.68 241.31H508.38" stroke="#207040"/><path d="M509.17 241.31H514.87" stroke="#207040"/><path d="M515.66 255.59H521.36" stroke="#207040"/><path d="M522.15 267.10H527.85" stroke="#207040"/><path d="M528.64 274.70H534.34" stroke="#207040"/><path d="M535.13 299.80H540.83" stroke="#207040"/><path d="M541.62 352.75H547.32" stroke="#207040"/><path d="M548.11 366.57H553.81" stroke="#207040"/><path d="M554.60 397.65H560.30" stroke="#207040"/><path d="M561.09 241.31H566.79" stroke="#507050"/><path d="M567.58 241.31H573.28" stroke="#507050"/><path d="M574.07 241.31H579.77" stroke="#507050"/><path d="M580.56 259.27H586.26" stroke="#507050"/><path d="M587.05 263.19H592.75" stroke="#507050"/><path d="M593.54 270.78H599.24" stroke="#507050"/><path d="M600.03 284.60H605.73" stroke="#507050"/><path d="M606.52 337.10H612.22" stroke="#507050"/><path d="M613.01 378.54H618.71" stroke="#507050"/></g>
<g stroke="#1a1a1a" stroke-width="0.55" fill="none"><path d="M82.08 261.54H85.28M83.68 261.54V264.14" stroke="#555" stroke-width="0.45"/><path d="M83.68 264.14V266.74M82.08 266.74H85.28"/><path d="M88.57 317.49H91.77M90.17 317.49V320.09" stroke="#555" stroke-width="0.45"/><path d="M90.17 320.09V322.69M88.57 322.69H91.77"/><path d="M95.06 348.11H98.26M96.66 348.11V350.71" stroke="#555" stroke-width="0.45"/><path d="M96.66 350.71V353.31M95.06 353.31H98.26"/><path d="M127.51 251.18H130.71M129.11 251.18V253.78" stroke="#555" stroke-width="0.45"/><path d="M129.11 253.78V256.38M127.51 256.38H130.71"/><path d="M134.00 261.54H137.20M135.60 261.54V264.14" stroke="#555" stroke-width="0.45"/><path d="M135.60 264.14V266.74M134.00 266.74H137.20"/><path d="M140.49 271.67H143.69M142.09 271.67V274.27" stroke="#555" stroke-width="0.45"/><path d="M142.09 274.27V276.87M140.49 276.87H143.69"/><path d="M146.98 300.68H150.18M148.58 300.68V303.28" stroke="#555" stroke-width="0.45"/><path d="M148.58 303.28V305.88M146.98 305.88H150.18"/><path d="M153.47 325.32H156.67M155.07 325.32V327.92" stroke="#555" stroke-width="0.45"/><path d="M155.07 327.92V330.52M153.47 330.52H156.67"/><path d="M159.96 356.17H163.16M161.56 356.17V358.77" stroke="#555" stroke-width="0.45"/><path d="M161.56 358.77V361.37M159.96 361.37H163.16"/><path d="M192.41 252.79H195.61M194.01 252.79V255.39" stroke="#555" stroke-width="0.45"/><path d="M194.01 255.39V257.99M192.41 257.99H195.61"/><path d="M198.90 265.45H202.10M200.50 265.45V268.05" stroke="#555" stroke-width="0.45"/><path d="M200.50 268.05V270.65M198.90 270.65H202.10"/><path d="M205.39 293.54H208.59M206.99 293.54V296.14" stroke="#555" stroke-width="0.45"/><path d="M206.99 296.14V298.74M205.39 298.74H208.59"/><path d="M211.88 346.96H215.08M213.48 346.96V349.56" stroke="#555" stroke-width="0.45"/><path d="M213.48 349.56V352.16M211.88 352.16H215.08"/><path d="M289.76 344.66H292.96M291.36 344.66V347.26" stroke="#555" stroke-width="0.45"/><path d="M291.36 347.26V349.86M289.76 349.86H292.96"/><path d="M335.19 282.95H338.39M336.79 282.95V285.55" stroke="#555" stroke-width="0.45"/><path d="M336.79 285.55V288.15M335.19 288.15H338.39"/><path d="M341.68 392.09H344.88M343.28 392.09V394.69" stroke="#555" stroke-width="0.45"/><path d="M343.28 394.69V397.29M341.68 397.29H344.88"/><path d="M367.64 247.49H370.84M369.24 247.49V250.09" stroke="#555" stroke-width="0.45"/><path d="M369.24 250.09V252.69M367.64 252.69H370.84"/><path d="M374.13 255.09H377.33M375.73 255.09V257.69" stroke="#555" stroke-width="0.45"/><path d="M375.73 257.69V260.29M374.13 260.29H377.33"/><path d="M380.62 265.45H383.82M382.22 265.45V268.05" stroke="#555" stroke-width="0.45"/><path d="M382.22 268.05V270.65M380.62 270.65H383.82"/><path d="M387.11 275.81H390.31M388.71 275.81V278.41" stroke="#555" stroke-width="0.45"/><path d="M388.71 278.41V281.01M387.11 281.01H390.31"/><path d="M393.60 280.65H396.80M395.20 280.65V283.25" stroke="#555" stroke-width="0.45"/><path d="M395.20 283.25V285.85M393.60 285.85H396.80"/><path d="M400.09 291.01H403.29M401.69 291.01V293.61" stroke="#555" stroke-width="0.45"/><path d="M401.69 293.61V296.21M400.09 296.21H403.29"/><path d="M406.58 335.68H409.78M408.18 335.68V338.28" stroke="#555" stroke-width="0.45"/><path d="M408.18 338.28V340.88M406.58 340.88H409.78"/><path d="M413.07 352.26H416.27M414.67 352.26V354.86" stroke="#555" stroke-width="0.45"/><path d="M414.67 354.86V357.46M413.07 357.46H416.27"/><path d="M432.54 248.41H435.74M434.14 248.41V251.01" stroke="#555" stroke-width="0.45"/><path d="M434.14 251.01V253.61M432.54 253.61H435.74"/><path d="M439.03 257.16H442.23M440.63 257.16V259.76" stroke="#555" stroke-width="0.45"/><path d="M440.63 259.76V262.36M439.03 262.36H442.23"/><path d="M445.52 271.90H448.72M447.12 271.90V274.50" stroke="#555" stroke-width="0.45"/><path d="M447.12 274.50V277.10M445.52 277.10H448.72"/><path d="M452.01 279.50H455.21M453.61 279.50V282.10" stroke="#555" stroke-width="0.45"/><path d="M453.61 282.10V284.70M452.01 284.70H455.21"/><path d="M458.50 291.01H461.70M460.10 291.01V293.61" stroke="#555" stroke-width="0.45"/><path d="M460.10 293.61V296.21M458.50 296.21H461.70"/><path d="M464.99 332.91H468.19M466.59 332.91V335.51" stroke="#555" stroke-width="0.45"/><path d="M466.59 335.51V338.12M464.99 338.12H468.19"/><path d="M471.48 353.64H474.68M473.08 353.64V356.24" stroke="#555" stroke-width="0.45"/><path d="M473.08 356.24V358.84M471.48 358.84H474.68"/><path d="M516.91 252.79H520.11M518.51 252.79V255.39" stroke="#555" stroke-width="0.45"/><path d="M518.51 255.39V257.99M516.91 257.99H520.11"/><path d="M523.40 264.30H526.60M525.00 264.30V266.90" stroke="#555" stroke-width="0.45"/><path d="M525.00 266.90V269.50M523.40 269.50H526.60"/><path d="M529.89 271.90H533.09M531.49 271.90V274.50" stroke="#555" stroke-width="0.45"/><path d="M531.49 274.50V277.10M529.89 277.10H533.09"/><path d="M536.38 297.00H539.58M537.98 297.00V299.60" stroke="#555" stroke-width="0.45"/><path d="M537.98 299.60V302.20M536.38 302.20H539.58"/><path d="M542.87 349.95H546.07M544.47 349.95V352.55" stroke="#555" stroke-width="0.45"/><path d="M544.47 352.55V355.15M542.87 355.15H546.07"/><path d="M549.36 363.77H552.56M550.96 363.77V366.37" stroke="#555" stroke-width="0.45"/><path d="M550.96 366.37V368.97M549.36 368.97H552.56"/><path d="M555.85 394.85H559.05M557.45 394.85V397.45" stroke="#555" stroke-width="0.45"/><path d="M557.45 397.45V400.05M555.85 400.05H559.05"/><path d="M581.81 256.47H585.01M583.41 256.47V259.07" stroke="#555" stroke-width="0.45"/><path d="M583.41 259.07V261.67M581.81 261.67H585.01"/><path d="M588.30 260.39H591.50M589.90 260.39V262.99" stroke="#555" stroke-width="0.45"/><path d="M589.90 262.99V265.59M588.30 265.59H591.50"/><path d="M594.79 267.98H597.99M596.39 267.98V270.58" stroke="#555" stroke-width="0.45"/><path d="M596.39 270.58V273.18M594.79 273.18H597.99"/><path d="M601.28 281.80H604.48M602.88 281.80V284.40" stroke="#555" stroke-width="0.45"/><path d="M602.88 284.40V287.00M601.28 287.00H604.48"/><path d="M607.77 334.30H610.97M609.37 334.30V336.90" stroke="#555" stroke-width="0.45"/><path d="M609.37 336.90V339.50M607.77 339.50H610.97"/><path d="M614.26 375.74H617.46M615.86 375.74V378.34" stroke="#555" stroke-width="0.45"/><path d="M615.86 378.34V380.94M614.26 380.94H617.46"/></g>
<g font-size="7" fill="#1a1a1a" text-anchor="middle"><text x="44.74" y="239.96">a</text><text x="51.23" y="239.96">a</text><text x="57.72" y="239.96">a</text><text x="64.21" y="239.96">a</text><text x="70.70" y="239.96">a</text><text x="77.19" y="239.96">a</text><text x="83.68" y="260.64">b</text><text x="90.17" y="316.59">c</text><text x="96.66" y="347.21">d</text><text x="103.15" y="412.80">e</text><text x="109.64" y="239.96">a</text><text x="116.13" y="239.96">a</text><text x="122.62" y="239.96">a</text><text x="129.11" y="250.28">b</text><text x="135.60" y="260.64">c</text><text x="142.09" y="270.77">d</text><text x="148.58" y="299.78">e</text><text x="155.07" y="324.42">f</text><text x="161.56" y="355.27">g</text><text x="168.05" y="412.80">h</text><text x="174.54" y="239.96">a</text><text x="181.03" y="239.96">a</text><text x="187.52" y="239.96">a</text><text x="194.01" y="251.89">b</text><text x="200.50" y="264.55">c</text><text x="206.99" y="292.64">d</text><text x="213.48" y="346.06">e</text><text x="219.97" y="412.80">f</text><text x="226.46" y="412.80">f</text><text x="232.95" y="412.80">f</text><text x="239.44" y="239.96">a</text><text x="245.93" y="239.96">a</text><text x="252.42" y="239.96">a</text><text x="258.91" y="239.96">a</text><text x="265.40" y="239.96">a</text><text x="271.89" y="239.96">a</text><text x="278.38" y="239.96">a</text><text x="284.87" y="239.96">a</text><text x="291.36" y="343.76">b</text><text x="297.85" y="412.80">c</text><text x="304.34" y="239.96">a</text><text x="310.83" y="239.96">a</text><text x="317.32" y="239.96">a</text><text x="323.81" y="239.96">a</text><text x="330.30" y="239.96">a</text><text x="336.79" y="282.05">b</text><text x="343.28" y="391.19">c</text><text x="349.77" y="412.80">d</text><text x="356.26" y="412.80">d</text><text x="362.75" y="412.80">d</text><text x="369.24" y="246.59">a</text><text x="375.73" y="254.19">b</text><text x="382.22" y="264.55">c</text><text x="388.71" y="274.91">d</text><text x="395.20" y="279.75">d</text><text x="401.69" y="290.11">e</text><text x="408.18" y="334.78">f</text><text x="414.67" y="351.36">g</text><text x="421.16" y="412.80">h</text><text x="427.65" y="412.80">h</text><text x="434.14" y="247.51">a</text><text x="440.63" y="256.26">b</text><text x="447.12" y="271.00">c</text><text x="453.61" y="278.60">d</text><text x="460.10" y="290.11">e</text><text x="466.59" y="332.01">f</text><text x="473.08" y="352.74">g</text><text x="479.57" y="412.80">h</text><text x="486.06" y="412.80">h</text><text x="492.55" y="412.80">h</text><text x="499.04" y="239.96">a</text><text x="505.53" y="239.96">a</text><text x="512.02" y="239.96">a</text><text x="518.51" y="251.89">b</text><text x="525.00" y="263.40">c</text><text x="531.49" y="271.00">d</text><text x="537.98" y="296.10">e</text><text x="544.47" y="349.05">f</text><text x="550.96" y="362.87">g</text><text x="557.45" y="393.95">h</text><text x="563.94" y="239.96">a</text><text x="570.43" y="239.96">a</text><text x="576.92" y="239.96">a</text><text x="583.41" y="255.57">b</text><text x="589.90" y="259.49">b</text><text x="596.39" y="267.08">c</text><text x="602.88" y="280.90">d</text><text x="609.37" y="333.40">e</text><text x="615.86" y="374.84">f</text><text x="622.35" y="412.80">g</text></g>
<path d="M35.4 229.6H625.5M35.4 414.3H625.5M35.4 431.8H625.5M35.4 443.3H625.5M35.4 229.6V443.3M625.5 229.6V443.3M41.59 414.3V431.8M48.08 414.3V431.8M54.57 414.3V431.8M61.06 414.3V431.8M67.55 414.3V431.8M74.04 414.3V431.8M80.53 414.3V431.8M87.02 414.3V431.8M93.51 414.3V431.8M100.00 414.3V431.8M106.49 414.3V431.8M112.98 414.3V431.8M119.47 414.3V431.8M125.96 414.3V431.8M132.45 414.3V431.8M138.94 414.3V431.8M145.43 414.3V431.8M151.92 414.3V431.8M158.41 414.3V431.8M164.90 414.3V431.8M171.39 414.3V431.8M177.88 414.3V431.8M184.37 414.3V431.8M190.86 414.3V431.8M197.35 414.3V431.8M203.84 414.3V431.8M210.33 414.3V431.8M216.82 414.3V431.8M223.31 414.3V431.8M229.80 414.3V431.8M236.29 414.3V431.8M242.78 414.3V431.8M249.27 414.3V431.8M255.76 414.3V431.8M262.25 414.3V431.8M268.74 414.3V431.8M275.23 414.3V431.8M281.72 414.3V431.8M288.21 414.3V431.8M294.70 414.3V431.8M301.19 414.3V431.8M307.68 414.3V431.8M314.17 414.3V431.8M320.66 414.3V431.8M327.15 414.3V431.8M333.64 414.3V431.8M340.13 414.3V431.8M346.62 414.3V431.8M353.11 414.3V431.8M359.60 414.3V431.8M366.09 414.3V431.8M372.58 414.3V431.8M379.07 414.3V431.8M385.56 414.3V431.8M392.05 414.3V431.8M398.54 414.3V431.8M405.03 414.3V431.8M411.52 414.3V431.8M418.01 414.3V431.8M424.50 414.3V431.8M430.99 414.3V431.8M437.48 414.3V431.8M443.97 414.3V431.8M450.46 414.3V431.8M456.95 414.3V431.8M463.44 414.3V431.8M469.93 414.3V431.8M476.42 414.3V431.8M482.91 414.3V431.8M489.40 414.3V431.8M495.89 414.3V431.8M502.38 414.3V431.8M508.87 414.3V431.8M515.36 414.3V431.8M521.85 414.3V431.8M528.34 414.3V431.8M534.83 414.3V431.8M541.32 414.3V431.8M547.81 414.3V431.8M554.30 414.3V431.8M560.79 414.3V431.8M567.28 414.3V431.8M573.77 414.3V431.8M580.26 414.3V431.8M586.75 414.3V431.8M593.24 414.3V431.8M599.73 414.3V431.8M606.22 414.3V431.8M612.71 414.3V431.8M619.20 414.3V431.8M41.59 431.8V443.3M106.49 431.8V443.3M171.39 431.8V443.3M236.29 431.8V443.3M301.19 431.8V443.3M366.09 431.8V443.3M430.99 431.8V443.3M495.89 431.8V443.3M560.79 431.8V443.3M35.4 413.80h3.4M35.4 390.78h1.6M35.4 367.75h3.4M35.4 344.73h1.6M35.4 321.70h3.4M35.4 298.68h1.6M35.4 275.65h3.4M35.4 252.62h1.6M35.4 229.60h3.4" stroke="#1a1a1a" stroke-width="0.9" fill="none"/>
<g font-size="8" fill="#111" text-anchor="end"><text x="31.4" y="417.00">0</text><text x="31.4" y="370.95">20</text><text x="31.4" y="324.90">40</text><text x="31.4" y="278.85">60</text><text x="31.4" y="232.80">80</text></g>
<g font-size="6.7" fill="#2a2a2a" text-anchor="middle"><text transform="translate(40.05 423.05) rotate(-90)">0</text><text transform="translate(46.54 423.05) rotate(-90)">62.5</text><text transform="translate(53.02 423.05) rotate(-90)">93.75</text><text transform="translate(59.52 423.05) rotate(-90)">125</text><text transform="translate(66.01 423.05) rotate(-90)">187.5</text><text transform="translate(72.50 423.05) rotate(-90)">250</text><text transform="translate(78.98 423.05) rotate(-90)">375</text><text transform="translate(85.48 423.05) rotate(-90)">500</text><text transform="translate(91.97 423.05) rotate(-90)">750</text><text transform="translate(98.46 423.05) rotate(-90)">1000</text><text transform="translate(104.95 423.05) rotate(-90)">1500</text><text transform="translate(111.44 423.05) rotate(-90)">62.5</text><text transform="translate(117.92 423.05) rotate(-90)">93.75</text><text transform="translate(124.42 423.05) rotate(-90)">125</text><text transform="translate(130.91 423.05) rotate(-90)">187.5</text><text transform="translate(137.40 423.05) rotate(-90)">250</text><text transform="translate(143.88 423.05) rotate(-90)">375</text><text transform="translate(150.38 423.05) rotate(-90)">500</text><text transform="translate(156.87 423.05) rotate(-90)">750</text><text transform="translate(163.35 423.05) rotate(-90)">1000</text><text transform="translate(169.84 423.05) rotate(-90)">1500</text><text transform="translate(176.33 423.05) rotate(-90)">62.5</text><text transform="translate(182.82 423.05) rotate(-90)">93.75</text><text transform="translate(189.31 423.05) rotate(-90)">125</text><text transform="translate(195.80 423.05) rotate(-90)">187.5</text><text transform="translate(202.29 423.05) rotate(-90)">250</text><text transform="translate(208.78 423.05) rotate(-90)">375</text><text transform="translate(215.28 423.05) rotate(-90)">500</text><text transform="translate(221.76 423.05) rotate(-90)">750</text><text transform="translate(228.25 423.05) rotate(-90)">1000</text><text transform="translate(234.75 423.05) rotate(-90)">1500</text><text transform="translate(241.23 423.05) rotate(-90)">62.5</text><text transform="translate(247.72 423.05) rotate(-90)">93.75</text><text transform="translate(254.22 423.05) rotate(-90)">125</text><text transform="translate(260.70 423.05) rotate(-90)">187.5</text><text transform="translate(267.19 423.05) rotate(-90)">250</text><text transform="translate(273.69 423.05) rotate(-90)">375</text><text transform="translate(280.18 423.05) rotate(-90)">500</text><text transform="translate(286.67 423.05) rotate(-90)">750</text><text transform="translate(293.16 423.05) rotate(-90)">1000</text><text transform="translate(299.65 423.05) rotate(-90)">1500</text><text transform="translate(306.14 423.05) rotate(-90)">62.5</text><text transform="translate(312.62 423.05) rotate(-90)">93.75</text><text transform="translate(319.12 423.05) rotate(-90)">125</text><text transform="translate(325.61 423.05) rotate(-90)">187.5</text><text transform="translate(332.10 423.05) rotate(-90)">250</text><text transform="translate(338.59 423.05) rotate(-90)">375</text><text transform="translate(345.08 423.05) rotate(-90)">500</text><text transform="translate(351.56 423.05) rotate(-90)">750</text><text transform="translate(358.06 423.05) rotate(-90)">1000</text><text transform="translate(364.55 423.05) rotate(-90)">1500</text><text transform="translate(371.04 423.05) rotate(-90)">62.5</text><text transform="translate(377.53 423.05) rotate(-90)">93.75</text><text transform="translate(384.02 423.05) rotate(-90)">125</text><text transform="translate(390.51 423.05) rotate(-90)">187.5</text><text transform="translate(397.00 423.05) rotate(-90)">250</text><text transform="translate(403.49 423.05) rotate(-90)">375</text><text transform="translate(409.98 423.05) rotate(-90)">500</text><text transform="translate(416.47 423.05) rotate(-90)">750</text><text transform="translate(422.96 423.05) rotate(-90)">1000</text><text transform="translate(429.45 423.05) rotate(-90)">1500</text><text transform="translate(435.94 423.05) rotate(-90)">62.5</text><text transform="translate(442.43 423.05) rotate(-90)">93.75</text><text transform="translate(448.92 423.05) rotate(-90)">125</text><text transform="translate(455.41 423.05) rotate(-90)">187.5</text><text transform="translate(461.90 423.05) rotate(-90)">250</text><text transform="translate(468.39 423.05) rotate(-90)">375</text><text transform="translate(474.88 423.05) rotate(-90)">500</text><text transform="translate(481.37 423.05) rotate(-90)">750</text><text transform="translate(487.86 423.05) rotate(-90)">1000</text><text transform="translate(494.35 423.05) rotate(-90)">1500</text><text transform="translate(500.84 423.05) rotate(-90)">62.5</text><text transform="translate(507.33 423.05) rotate(-90)">93.75</text><text transform="translate(513.82 423.05) rotate(-90)">125</text><text transform="translate(520.31 423.05) rotate(-90)">187.5</text><text transform="translate(526.80 423.05) rotate(-90)">250</text><text transform="translate(533.29 423.05) rotate(-90)">375</text><text transform="translate(539.78 423.05) rotate(-90)">500</text><text transform="translate(546.27 423.05) rotate(-90)">750</text><text transform="translate(552.76 423.05) rotate(-90)">1000</text><text transform="translate(559.25 423.05) rotate(-90)">1500</text><text transform="translate(565.74 423.05) rotate(-90)">62.5</text><text transform="translate(572.23 423.05) rotate(-90)">93.75</text><text transform="translate(578.72 423.05) rotate(-90)">125</text><text transform="translate(585.21 423.05) rotate(-90)">187.5</text><text transform="translate(591.70 423.05) rotate(-90)">250</text><text transform="translate(598.19 423.05) rotate(-90)">375</text><text transform="translate(604.68 423.05) rotate(-90)">500</text><text transform="translate(611.17 423.05) rotate(-90)">750</text><text transform="translate(617.66 423.05) rotate(-90)">1000</text><text transform="translate(624.15 423.05) rotate(-90)">1500</text></g>
<g font-size="7.0" font-weight="bold" fill="#000" stroke="#000" stroke-width="0.12" text-anchor="middle"><text x="38.39" y="440.20" font-size="8.4" stroke-width="0.05">C</text><text x="74.04" y="439.40">COS</text><text x="138.94" y="439.40">Q. suber</text><text x="203.84" y="439.40">COS + Q. suber</text><text x="268.74" y="439.40">Glycerin</text><text x="333.64" y="439.40">COS + Glycerin</text><text x="398.54" y="439.40">Vanillic acid</text><text x="463.44" y="439.40">COS + Vanillic acid</text><text x="528.34" y="439.40">Azabicyclo</text><text x="593.24" y="439.40">COS + Azabicyclo</text></g>
<text transform="translate(19.3 321.70) rotate(-90)" font-size="9.6" font-weight="bold" fill="#000" stroke="#000" stroke-width="0.15" text-anchor="middle">Radial growth of mycelium (mm)</text>
<text x="382.5" y="247.7" font-size="13.75" font-weight="bold" font-style="italic" fill="#000" stroke="#000" stroke-width="0.15">M. laxa</text>
<g stroke="#777" stroke-width="0.6"><rect x="35.60" y="462.52" width="5.3" height="172.88" fill="url(#gC)"/><rect x="42.09" y="462.52" width="5.3" height="172.88" fill="url(#gCOS)"/><rect x="48.58" y="462.52" width="5.3" height="172.88" fill="url(#gCOS)"/><rect x="55.07" y="462.52" width="5.3" height="172.88" fill="url(#gCOS)"/><rect x="61.56" y="462.52" width="5.3" height="172.88" fill="url(#gCOS)"/><rect x="68.05" y="462.52" width="5.3" height="172.88" fill="url(#gCOS)"/><rect x="74.54" y="471.50" width="5.3" height="163.90" fill="url(#gCOS)"/><rect x="81.03" y="498.23" width="5.3" height="137.17" fill="url(#gCOS)"/><rect x="87.52" y="580.47" width="5.3" height="54.93" fill="url(#gCOS)"/><rect x="94.01" y="600.28" width="5.3" height="35.12" fill="url(#gCOS)"/><rect x="106.99" y="462.52" width="5.3" height="172.88" fill="url(#gQ)"/><rect x="113.48" y="462.52" width="5.3" height="172.88" fill="url(#gQ)"/><rect x="119.97" y="462.52" width="5.3" height="172.88" fill="url(#gQ)"/><rect x="126.46" y="462.52" width="5.3" height="172.88" fill="url(#gQ)"/><rect x="132.95" y="462.52" width="5.3" height="172.88" fill="url(#gQ)"/><rect x="139.44" y="474.73" width="5.3" height="160.67" fill="url(#gQ)"/><rect x="145.93" y="485.10" width="5.3" height="150.30" fill="url(#gQ)"/><rect x="152.42" y="499.15" width="5.3" height="136.25" fill="url(#gQ)"/><rect x="158.91" y="514.81" width="5.3" height="120.59" fill="url(#gQ)"/><rect x="165.40" y="540.62" width="5.3" height="94.78" fill="url(#gQ)"/><rect x="171.89" y="462.52" width="5.3" height="172.88" fill="url(#gCQ)"/><rect x="178.38" y="462.52" width="5.3" height="172.88" fill="url(#gCQ)"/><rect x="184.87" y="462.52" width="5.3" height="172.88" fill="url(#gCQ)"/><rect x="191.36" y="462.52" width="5.3" height="172.88" fill="url(#gCQ)"/><rect x="197.85" y="476.34" width="5.3" height="159.06" fill="url(#gCQ)"/><rect x="204.34" y="492.01" width="5.3" height="143.39" fill="url(#gCQ)"/><rect x="210.83" y="534.17" width="5.3" height="101.23" fill="url(#gCQ)"/><rect x="236.79" y="462.52" width="5.3" height="172.88" fill="url(#gG)"/><rect x="243.28" y="462.52" width="5.3" height="172.88" fill="url(#gG)"/><rect x="249.77" y="462.52" width="5.3" height="172.88" fill="url(#gG)"/><rect x="256.26" y="462.52" width="5.3" height="172.88" fill="url(#gG)"/><rect x="262.75" y="462.52" width="5.3" height="172.88" fill="url(#gG)"/><rect x="269.24" y="462.52" width="5.3" height="172.88" fill="url(#gG)"/><rect x="275.73" y="462.52" width="5.3" height="172.88" fill="url(#gG)"/><rect x="282.22" y="476.34" width="5.3" height="159.06" fill="url(#gG)"/><rect x="288.71" y="550.75" width="5.3" height="84.65" fill="url(#gG)"/><rect x="301.69" y="462.52" width="5.3" height="172.88" fill="url(#gCG)"/><rect x="308.18" y="462.52" width="5.3" height="172.88" fill="url(#gCG)"/><rect x="314.67" y="462.52" width="5.3" height="172.88" fill="url(#gCG)"/><rect x="321.16" y="462.52" width="5.3" height="172.88" fill="url(#gCG)"/><rect x="327.65" y="462.52" width="5.3" height="172.88" fill="url(#gCG)"/><rect x="334.14" y="462.52" width="5.3" height="172.88" fill="url(#gCG)"/><rect x="340.63" y="503.53" width="5.3" height="131.87" fill="url(#gCG)"/><rect x="347.12" y="593.37" width="5.3" height="42.03" fill="url(#gCG)"/><rect x="366.59" y="468.28" width="5.3" height="167.12" fill="url(#gV)"/><rect x="373.08" y="476.34" width="5.3" height="159.06" fill="url(#gV)"/><rect x="379.57" y="495.46" width="5.3" height="139.94" fill="url(#gV)"/><rect x="386.06" y="503.53" width="5.3" height="131.87" fill="url(#gV)"/><rect x="392.55" y="511.13" width="5.3" height="124.27" fill="url(#gV)"/><rect x="399.04" y="530.25" width="5.3" height="105.15" fill="url(#gV)"/><rect x="405.53" y="560.89" width="5.3" height="74.51" fill="url(#gV)"/><rect x="412.02" y="588.07" width="5.3" height="47.33" fill="url(#gV)"/><rect x="418.51" y="617.79" width="5.3" height="17.61" fill="url(#gV)"/><rect x="431.49" y="471.96" width="5.3" height="163.44" fill="url(#gCV)"/><rect x="437.98" y="480.03" width="5.3" height="155.37" fill="url(#gCV)"/><rect x="444.47" y="491.55" width="5.3" height="143.85" fill="url(#gCV)"/><rect x="450.96" y="510.67" width="5.3" height="124.73" fill="url(#gCV)"/><rect x="457.45" y="518.27" width="5.3" height="117.13" fill="url(#gCV)"/><rect x="463.94" y="541.54" width="5.3" height="93.86" fill="url(#gCV)"/><rect x="470.43" y="558.35" width="5.3" height="77.05" fill="url(#gCV)"/><rect x="476.92" y="603.74" width="5.3" height="31.66" fill="url(#gCV)"/><rect x="496.39" y="471.50" width="5.3" height="163.90" fill="url(#gA)"/><rect x="502.88" y="477.95" width="5.3" height="157.45" fill="url(#gA)"/><rect x="509.37" y="481.18" width="5.3" height="154.22" fill="url(#gA)"/><rect x="515.86" y="499.15" width="5.3" height="136.25" fill="url(#gA)"/><rect x="522.35" y="503.53" width="5.3" height="131.87" fill="url(#gA)"/><rect x="528.84" y="505.83" width="5.3" height="129.57" fill="url(#gA)"/><rect x="535.33" y="511.13" width="5.3" height="124.27" fill="url(#gA)"/><rect x="541.82" y="522.65" width="5.3" height="112.75" fill="url(#gA)"/><rect x="548.31" y="536.93" width="5.3" height="98.47" fill="url(#gA)"/><rect x="554.80" y="549.83" width="5.3" height="85.57" fill="url(#gA)"/><rect x="561.29" y="472.42" width="5.3" height="162.98" fill="url(#gCA)"/><rect x="567.78" y="487.17" width="5.3" height="148.23" fill="url(#gCA)"/><rect x="574.27" y="495.46" width="5.3" height="139.94" fill="url(#gCA)"/><rect x="580.76" y="499.61" width="5.3" height="135.79" fill="url(#gCA)"/><rect x="587.25" y="507.44" width="5.3" height="127.96" fill="url(#gCA)"/><rect x="593.74" y="516.20" width="5.3" height="119.20" fill="url(#gCA)"/><rect x="600.23" y="527.48" width="5.3" height="107.92" fill="url(#gCA)"/><rect x="606.72" y="561.12" width="5.3" height="74.28" fill="url(#gCA)"/><rect x="613.21" y="568.72" width="5.3" height="66.68" fill="url(#gCA)"/></g>
<g stroke-width="0.8" fill="none"><path d="M35.40 462.72H41.10" stroke="#505050"/><path d="M41.89 462.72H47.59" stroke="#505050"/><path d="M48.38 462.72H54.08" stroke="#505050"/><path d="M54.87 462.72H60.57" stroke="#505050"/><path d="M61.36 462.72H67.06" stroke="#505050"/><path d="M67.85 462.72H73.55" stroke="#505050"/><path d="M74.34 471.70H80.04" stroke="#505050"/><path d="M80.83 498.43H86.53" stroke="#505050"/><path d="M87.32 580.67H93.02" stroke="#505050"/><path d="M93.81 600.48H99.51" stroke="#505050"/><path d="M106.79 462.72H112.49" stroke="#a05a20"/><path d="M113.28 462.72H118.98" stroke="#a05a20"/><path d="M119.77 462.72H125.47" stroke="#a05a20"/><path d="M126.26 462.72H131.96" stroke="#a05a20"/><path d="M132.75 462.72H138.45" stroke="#a05a20"/><path d="M139.24 474.93H144.94" stroke="#a05a20"/><path d="M145.73 485.30H151.43" stroke="#a05a20"/><path d="M152.22 499.35H157.92" stroke="#a05a20"/><path d="M158.71 515.01H164.41" stroke="#a05a20"/><path d="M165.20 540.82H170.90" stroke="#a05a20"/><path d="M171.69 462.72H177.39" stroke="#a06a40"/><path d="M178.18 462.72H183.88" stroke="#a06a40"/><path d="M184.67 462.72H190.37" stroke="#a06a40"/><path d="M191.16 462.72H196.86" stroke="#a06a40"/><path d="M197.65 476.54H203.35" stroke="#a06a40"/><path d="M204.14 492.21H209.84" stroke="#a06a40"/><path d="M210.63 534.37H216.33" stroke="#a06a40"/><path d="M236.59 462.72H242.29" stroke="#303068"/><path d="M243.08 462.72H248.78" stroke="#303068"/><path d="M249.57 462.72H255.27" stroke="#303068"/><path d="M256.06 462.72H261.76" stroke="#303068"/><path d="M262.55 462.72H268.25" stroke="#303068"/><path d="M269.04 462.72H274.74" stroke="#303068"/><path d="M275.53 462.72H281.23" stroke="#303068"/><path d="M282.02 476.54H287.72" stroke="#303068"/><path d="M288.51 550.95H294.21" stroke="#303068"/><path d="M301.49 462.72H307.19" stroke="#505080"/><path d="M307.98 462.72H313.68" stroke="#505080"/><path d="M314.47 462.72H320.17" stroke="#505080"/><path d="M320.96 462.72H326.66" stroke="#505080"/><path d="M327.45 462.72H333.15" stroke="#505080"/><path d="M333.94 462.72H339.64" stroke="#505080"/><path d="M340.43 503.73H346.13" stroke="#505080"/><path d="M346.92 593.57H352.62" stroke="#505080"/><path d="M366.39 468.48H372.09" stroke="#8a7a10"/><path d="M372.88 476.54H378.58" stroke="#8a7a10"/><path d="M379.37 495.66H385.07" stroke="#8a7a10"/><path d="M385.86 503.73H391.56" stroke="#8a7a10"/><path d="M392.35 511.33H398.05" stroke="#8a7a10"/><path d="M398.84 530.45H404.54" stroke="#8a7a10"/><path d="M405.33 561.09H411.03" stroke="#8a7a10"/><path d="M411.82 588.27H417.52" stroke="#8a7a10"/><path d="M418.31 617.99H424.01" stroke="#8a7a10"/><path d="M431.29 472.16H436.99" stroke="#8a8030"/><path d="M437.78 480.23H443.48" stroke="#8a8030"/><path d="M444.27 491.75H449.97" stroke="#8a8030"/><path d="M450.76 510.87H456.46" stroke="#8a8030"/><path d="M457.25 518.47H462.95" stroke="#8a8030"/><path d="M463.74 541.74H469.44" stroke="#8a8030"/><path d="M470.23 558.55H475.93" stroke="#8a8030"/><path d="M476.72 603.94H482.42" stroke="#8a8030"/><path d="M496.19 471.70H501.89" stroke="#207040"/><path d="M502.68 478.15H508.38" stroke="#207040"/><path d="M509.17 481.38H514.87" stroke="#207040"/><path d="M515.66 499.35H521.36" stroke="#207040"/><path d="M522.15 503.73H527.85" stroke="#207040"/><path d="M528.64 506.03H534.34" stroke="#207040"/><path d="M535.13 511.33H540.83" stroke="#207040"/><path d="M541.62 522.85H547.32" stroke="#207040"/><path d="M548.11 537.13H553.81" stroke="#207040"/><path d="M554.60 550.03H560.30" stroke="#207040"/><path d="M561.09 472.62H566.79" stroke="#507050"/><path d="M567.58 487.37H573.28" stroke="#507050"/><path d="M574.07 495.66H579.77" stroke="#507050"/><path d="M580.56 499.81H586.26" stroke="#507050"/><path d="M587.05 507.64H592.75" stroke="#507050"/><path d="M593.54 516.40H599.24" stroke="#507050"/><path d="M600.03 527.68H605.73" stroke="#507050"/><path d="M606.52 561.32H612.22" stroke="#507050"/><path d="M613.01 568.92H618.71" stroke="#507050"/></g>
<g stroke="#1a1a1a" stroke-width="0.55" fill="none"><path d="M75.59 468.90H78.79M77.19 468.90V471.50" stroke="#555" stroke-width="0.45"/><path d="M77.19 471.50V474.10M75.59 474.10H78.79"/><path d="M82.08 495.63H85.28M83.68 495.63V498.23" stroke="#555" stroke-width="0.45"/><path d="M83.68 498.23V500.83M82.08 500.83H85.28"/><path d="M88.57 577.87H91.77M90.17 577.87V580.47" stroke="#555" stroke-width="0.45"/><path d="M90.17 580.47V583.07M88.57 583.07H91.77"/><path d="M95.06 597.68H98.26M96.66 597.68V600.28" stroke="#555" stroke-width="0.45"/><path d="M96.66 600.28V602.88M95.06 602.88H98.26"/><path d="M140.49 472.13H143.69M142.09 472.13V474.73" stroke="#555" stroke-width="0.45"/><path d="M142.09 474.73V477.33M140.49 477.33H143.69"/><path d="M146.98 482.50H150.18M148.58 482.50V485.10" stroke="#555" stroke-width="0.45"/><path d="M148.58 485.10V487.70M146.98 487.70H150.18"/><path d="M153.47 496.55H156.67M155.07 496.55V499.15" stroke="#555" stroke-width="0.45"/><path d="M155.07 499.15V501.75M153.47 501.75H156.67"/><path d="M159.96 512.21H163.16M161.56 512.21V514.81" stroke="#555" stroke-width="0.45"/><path d="M161.56 514.81V517.41M159.96 517.41H163.16"/><path d="M166.45 538.02H169.65M168.05 538.02V540.62" stroke="#555" stroke-width="0.45"/><path d="M168.05 540.62V543.22M166.45 543.22H169.65"/><path d="M198.90 473.74H202.10M200.50 473.74V476.34" stroke="#555" stroke-width="0.45"/><path d="M200.50 476.34V478.94M198.90 478.94H202.10"/><path d="M205.39 489.41H208.59M206.99 489.41V492.01" stroke="#555" stroke-width="0.45"/><path d="M206.99 492.01V494.61M205.39 494.61H208.59"/><path d="M211.88 531.57H215.08M213.48 531.57V534.17" stroke="#555" stroke-width="0.45"/><path d="M213.48 534.17V536.77M211.88 536.77H215.08"/><path d="M283.27 473.74H286.47M284.87 473.74V476.34" stroke="#555" stroke-width="0.45"/><path d="M284.87 476.34V478.94M283.27 478.94H286.47"/><path d="M289.76 548.15H292.96M291.36 548.15V550.75" stroke="#555" stroke-width="0.45"/><path d="M291.36 550.75V553.35M289.76 553.35H292.96"/><path d="M341.68 500.93H344.88M343.28 500.93V503.53" stroke="#555" stroke-width="0.45"/><path d="M343.28 503.53V506.13M341.68 506.13H344.88"/><path d="M348.17 590.77H351.37M349.77 590.77V593.37" stroke="#555" stroke-width="0.45"/><path d="M349.77 593.37V595.97M348.17 595.97H351.37"/><path d="M367.64 465.68H370.84M369.24 465.68V468.28" stroke="#555" stroke-width="0.45"/><path d="M369.24 468.28V470.88M367.64 470.88H370.84"/><path d="M374.13 473.74H377.33M375.73 473.74V476.34" stroke="#555" stroke-width="0.45"/><path d="M375.73 476.34V478.94M374.13 478.94H377.33"/><path d="M380.62 492.86H383.82M382.22 492.86V495.46" stroke="#555" stroke-width="0.45"/><path d="M382.22 495.46V498.06M380.62 498.06H383.82"/><path d="M387.11 500.93H390.31M388.71 500.93V503.53" stroke="#555" stroke-width="0.45"/><path d="M388.71 503.53V506.13M387.11 506.13H390.31"/><path d="M393.60 508.53H396.80M395.20 508.53V511.13" stroke="#555" stroke-width="0.45"/><path d="M395.20 511.13V513.73M393.60 513.73H396.80"/><path d="M400.09 527.65H403.29M401.69 527.65V530.25" stroke="#555" stroke-width="0.45"/><path d="M401.69 530.25V532.85M400.09 532.85H403.29"/><path d="M406.58 558.29H409.78M408.18 558.29V560.89" stroke="#555" stroke-width="0.45"/><path d="M408.18 560.89V563.49M406.58 563.49H409.78"/><path d="M413.07 585.47H416.27M414.67 585.47V588.07" stroke="#555" stroke-width="0.45"/><path d="M414.67 588.07V590.67M413.07 590.67H416.27"/><path d="M419.56 615.19H422.76M421.16 615.19V617.79" stroke="#555" stroke-width="0.45"/><path d="M421.16 617.79V620.39M419.56 620.39H422.76"/><path d="M432.54 469.36H435.74M434.14 469.36V471.96" stroke="#555" stroke-width="0.45"/><path d="M434.14 471.96V474.56M432.54 474.56H435.74"/><path d="M439.03 477.43H442.23M440.63 477.43V480.03" stroke="#555" stroke-width="0.45"/><path d="M440.63 480.03V482.63M439.03 482.63H442.23"/><path d="M445.52 488.95H448.72M447.12 488.95V491.55" stroke="#555" stroke-width="0.45"/><path d="M447.12 491.55V494.15M445.52 494.15H448.72"/><path d="M452.01 508.07H455.21M453.61 508.07V510.67" stroke="#555" stroke-width="0.45"/><path d="M453.61 510.67V513.27M452.01 513.27H455.21"/><path d="M458.50 515.67H461.70M460.10 515.67V518.27" stroke="#555" stroke-width="0.45"/><path d="M460.10 518.27V520.87M458.50 520.87H461.70"/><path d="M464.99 538.94H468.19M466.59 538.94V541.54" stroke="#555" stroke-width="0.45"/><path d="M466.59 541.54V544.14M464.99 544.14H468.19"/><path d="M471.48 555.75H474.68M473.08 555.75V558.35" stroke="#555" stroke-width="0.45"/><path d="M473.08 558.35V560.95M471.48 560.95H474.68"/><path d="M477.97 601.14H481.17M479.57 601.14V603.74" stroke="#555" stroke-width="0.45"/><path d="M479.57 603.74V606.34M477.97 606.34H481.17"/><path d="M497.44 468.90H500.64M499.04 468.90V471.50" stroke="#555" stroke-width="0.45"/><path d="M499.04 471.50V474.10M497.44 474.10H500.64"/><path d="M503.93 475.35H507.13M505.53 475.35V477.95" stroke="#555" stroke-width="0.45"/><path d="M505.53 477.95V480.55M503.93 480.55H507.13"/><path d="M510.42 478.58H513.62M512.02 478.58V481.18" stroke="#555" stroke-width="0.45"/><path d="M512.02 481.18V483.78M510.42 483.78H513.62"/><path d="M516.91 496.55H520.11M518.51 496.55V499.15" stroke="#555" stroke-width="0.45"/><path d="M518.51 499.15V501.75M516.91 501.75H520.11"/><path d="M523.40 500.93H526.60M525.00 500.93V503.53" stroke="#555" stroke-width="0.45"/><path d="M525.00 503.53V506.13M523.40 506.13H526.60"/><path d="M529.89 503.23H533.09M531.49 503.23V505.83" stroke="#555" stroke-width="0.45"/><path d="M531.49 505.83V508.43M529.89 508.43H533.09"/><path d="M536.38 508.53H539.58M537.98 508.53V511.13" stroke="#555" stroke-width="0.45"/><path d="M537.98 511.13V513.73M536.38 513.73H539.58"/><path d="M542.87 520.05H546.07M544.47 520.05V522.65" stroke="#555" stroke-width="0.45"/><path d="M544.47 522.65V525.25M542.87 525.25H546.07"/><path d="M549.36 534.33H552.56M550.96 534.33V536.93" stroke="#555" stroke-width="0.45"/><path d="M550.96 536.93V539.53M549.36 539.53H552.56"/><path d="M555.85 547.23H559.05M557.45 547.23V549.83" stroke="#555" stroke-width="0.45"/><path d="M557.45 549.83V552.43M555.85 552.43H559.05"/><path d="M562.34 469.82H565.54M563.94 469.82V472.42" stroke="#555" stroke-width="0.45"/><path d="M563.94 472.42V475.02M562.34 475.02H565.54"/><path d="M568.83 484.57H572.03M570.43 484.57V487.17" stroke="#555" stroke-width="0.45"/><path d="M570.43 487.17V489.77M568.83 489.77H572.03"/><path d="M575.32 492.86H578.52M576.92 492.86V495.46" stroke="#555" stroke-width="0.45"/><path d="M576.92 495.46V498.06M575.32 498.06H578.52"/><path d="M581.81 497.01H585.01M583.41 497.01V499.61" stroke="#555" stroke-width="0.45"/><path d="M583.41 499.61V502.21M581.81 502.21H585.01"/><path d="M588.30 504.84H591.50M589.90 504.84V507.44" stroke="#555" stroke-width="0.45"/><path d="M589.90 507.44V510.04M588.30 510.04H591.50"/><path d="M594.79 513.60H597.99M596.39 513.60V516.20" stroke="#555" stroke-width="0.45"/><path d="M596.39 516.20V518.80M594.79 518.80H597.99"/><path d="M601.28 524.88H604.48M602.88 524.88V527.48" stroke="#555" stroke-width="0.45"/><path d="M602.88 527.48V530.08M601.28 530.08H604.48"/><path d="M607.77 558.52H610.97M609.37 558.52V561.12" stroke="#555" stroke-width="0.45"/><path d="M609.37 561.12V563.72M607.77 563.72H610.97"/><path d="M614.26 566.12H617.46M615.86 566.12V568.72" stroke="#555" stroke-width="0.45"/><path d="M615.86 568.72V571.32M614.26 571.32H617.46"/></g>
<g font-size="7" fill="#1a1a1a" text-anchor="middle"><text x="44.74" y="461.37">a</text><text x="51.23" y="461.37">a</text><text x="57.72" y="461.37">a</text><text x="64.21" y="461.37">a</text><text x="70.70" y="461.37">a</text><text x="77.19" y="468.00">b</text><text x="83.68" y="494.73">c</text><text x="90.17" y="576.97">d</text><text x="96.66" y="596.78">e</text><text x="103.15" y="633.90">f</text><text x="109.64" y="461.37">a</text><text x="116.13" y="461.37">a</text><text x="122.62" y="461.37">a</text><text x="129.11" y="461.37">a</text><text x="135.60" y="461.37">a</text><text x="142.09" y="471.23">b</text><text x="148.58" y="481.60">c</text><text x="155.07" y="495.65">d</text><text x="161.56" y="511.31">e</text><text x="168.05" y="537.12">f</text><text x="174.54" y="461.37">a</text><text x="181.03" y="461.37">a</text><text x="187.52" y="461.37">a</text><text x="194.01" y="461.37">a</text><text x="200.50" y="472.84">b</text><text x="206.99" y="488.51">c</text><text x="213.48" y="530.67">d</text><text x="219.97" y="633.90">e</text><text x="226.46" y="633.90">e</text><text x="232.95" y="633.90">e</text><text x="239.44" y="461.37">a</text><text x="245.93" y="461.37">a</text><text x="252.42" y="461.37">a</text><text x="258.91" y="461.37">a</text><text x="265.40" y="461.37">a</text><text x="271.89" y="461.37">a</text><text x="278.38" y="461.37">a</text><text x="284.87" y="472.84">b</text><text x="291.36" y="547.25">c</text><text x="297.85" y="633.90">d</text><text x="304.34" y="461.37">a</text><text x="310.83" y="461.37">a</text><text x="317.32" y="461.37">a</text><text x="323.81" y="461.37">a</text><text x="330.30" y="461.37">a</text><text x="336.79" y="461.37">a</text><text x="343.28" y="500.03">b</text><text x="349.77" y="589.87">c</text><text x="356.26" y="633.90">d</text><text x="362.75" y="633.90">d</text><text x="369.24" y="464.78">a</text><text x="375.73" y="472.84">b</text><text x="382.22" y="491.96">c</text><text x="388.71" y="500.03">d</text><text x="395.20" y="507.63">e</text><text x="401.69" y="526.75">f</text><text x="408.18" y="557.39">g</text><text x="414.67" y="584.57">h</text><text x="421.16" y="614.29">i</text><text x="427.65" y="633.90">j</text><text x="434.14" y="468.46">a</text><text x="440.63" y="476.53">b</text><text x="447.12" y="488.05">c</text><text x="453.61" y="507.17">d</text><text x="460.10" y="514.77">e</text><text x="466.59" y="538.04">f</text><text x="473.08" y="554.85">g</text><text x="479.57" y="600.24">h</text><text x="486.06" y="633.90">i</text><text x="492.55" y="633.90">i</text><text x="499.04" y="468.00">a</text><text x="505.53" y="474.45">ab</text><text x="512.02" y="477.68">b</text><text x="518.51" y="495.65">c</text><text x="525.00" y="500.03">c</text><text x="531.49" y="502.33">cd</text><text x="537.98" y="507.63">d</text><text x="544.47" y="519.15">e</text><text x="550.96" y="533.43">f</text><text x="557.45" y="546.33">g</text><text x="563.94" y="468.92">a</text><text x="570.43" y="483.67">b</text><text x="576.92" y="491.96">c</text><text x="583.41" y="496.11">c</text><text x="589.90" y="503.94">d</text><text x="596.39" y="512.70">e</text><text x="602.88" y="523.98">f</text><text x="609.37" y="557.62">g</text><text x="615.86" y="565.22">h</text><text x="622.35" y="633.90">i</text></g>
<path d="M35.4 451.0H625.5M35.4 635.4H625.5M35.4 653.4H625.5M35.4 664.4H625.5M35.4 451.0V664.4M625.5 451.0V664.4M41.59 635.4V653.4M48.08 635.4V653.4M54.57 635.4V653.4M61.06 635.4V653.4M67.55 635.4V653.4M74.04 635.4V653.4M80.53 635.4V653.4M87.02 635.4V653.4M93.51 635.4V653.4M100.00 635.4V653.4M106.49 635.4V653.4M112.98 635.4V653.4M119.47 635.4V653.4M125.96 635.4V653.4M132.45 635.4V653.4M138.94 635.4V653.4M145.43 635.4V653.4M151.92 635.4V653.4M158.41 635.4V653.4M164.90 635.4V653.4M171.39 635.4V653.4M177.88 635.4V653.4M184.37 635.4V653.4M190.86 635.4V653.4M197.35 635.4V653.4M203.84 635.4V653.4M210.33 635.4V653.4M216.82 635.4V653.4M223.31 635.4V653.4M229.80 635.4V653.4M236.29 635.4V653.4M242.78 635.4V653.4M249.27 635.4V653.4M255.76 635.4V653.4M262.25 635.4V653.4M268.74 635.4V653.4M275.23 635.4V653.4M281.72 635.4V653.4M288.21 635.4V653.4M294.70 635.4V653.4M301.19 635.4V653.4M307.68 635.4V653.4M314.17 635.4V653.4M320.66 635.4V653.4M327.15 635.4V653.4M333.64 635.4V653.4M340.13 635.4V653.4M346.62 635.4V653.4M353.11 635.4V653.4M359.60 635.4V653.4M366.09 635.4V653.4M372.58 635.4V653.4M379.07 635.4V653.4M385.56 635.4V653.4M392.05 635.4V653.4M398.54 635.4V653.4M405.03 635.4V653.4M411.52 635.4V653.4M418.01 635.4V653.4M424.50 635.4V653.4M430.99 635.4V653.4M437.48 635.4V653.4M443.97 635.4V653.4M450.46 635.4V653.4M456.95 635.4V653.4M463.44 635.4V653.4M469.93 635.4V653.4M476.42 635.4V653.4M482.91 635.4V653.4M489.40 635.4V653.4M495.89 635.4V653.4M502.38 635.4V653.4M508.87 635.4V653.4M515.36 635.4V653.4M521.85 635.4V653.4M528.34 635.4V653.4M534.83 635.4V653.4M541.32 635.4V653.4M547.81 635.4V653.4M554.30 635.4V653.4M560.79 635.4V653.4M567.28 635.4V653.4M573.77 635.4V653.4M580.26 635.4V653.4M586.75 635.4V653.4M593.24 635.4V653.4M599.73 635.4V653.4M606.22 635.4V653.4M612.71 635.4V653.4M619.20 635.4V653.4M41.59 653.4V664.4M106.49 653.4V664.4M171.39 653.4V664.4M236.29 653.4V664.4M301.19 653.4V664.4M366.09 653.4V664.4M430.99 653.4V664.4M495.89 653.4V664.4M560.79 653.4V664.4M35.4 635.30h3.4M35.4 612.26h1.6M35.4 589.22h3.4M35.4 566.19h1.6M35.4 543.15h3.4M35.4 520.11h1.6M35.4 497.07h3.4M35.4 474.04h1.6M35.4 451.00h3.4" stroke="#1a1a1a" stroke-width="0.9" fill="none"/>
<g font-size="8" fill="#111" text-anchor="end"><text x="31.4" y="638.50">0</text><text x="31.4" y="592.42">20</text><text x="31.4" y="546.35">40</text><text x="31.4" y="500.27">60</text><text x="31.4" y="454.20">80</text></g>
<g font-size="6.7" fill="#2a2a2a" text-anchor="middle"><text transform="translate(40.05 644.40) rotate(-90)">0</text><text transform="translate(46.54 644.40) rotate(-90)">62.5</text><text transform="translate(53.02 644.40) rotate(-90)">93.75</text><text transform="translate(59.52 644.40) rotate(-90)">125</text><text transform="translate(66.01 644.40) rotate(-90)">187.5</text><text transform="translate(72.50 644.40) rotate(-90)">250</text><text transform="translate(78.98 644.40) rotate(-90)">375</text><text transform="translate(85.48 644.40) rotate(-90)">500</text><text transform="translate(91.97 644.40) rotate(-90)">750</text><text transform="translate(98.46 644.40) rotate(-90)">1000</text><text transform="translate(104.95 644.40) rotate(-90)">1500</text><text transform="translate(111.44 644.40) rotate(-90)">62.5</text><text transform="translate(117.92 644.40) rotate(-90)">93.75</text><text transform="translate(124.42 644.40) rotate(-90)">125</text><text transform="translate(130.91 644.40) rotate(-90)">187.5</text><text transform="translate(137.40 644.40) rotate(-90)">250</text><text transform="translate(143.88 644.40) rotate(-90)">375</text><text transform="translate(150.38 644.40) rotate(-90)">500</text><text transform="translate(156.87 644.40) rotate(-90)">750</text><text transform="translate(163.35 644.40) rotate(-90)">1000</text><text transform="translate(169.84 644.40) rotate(-90)">1500</text><text transform="translate(176.33 644.40) rotate(-90)">62.5</text><text transform="translate(182.82 644.40) rotate(-90)">93.75</text><text transform="translate(189.31 644.40) rotate(-90)">125</text><text transform="translate(195.80 644.40) rotate(-90)">187.5</text><text transform="translate(202.29 644.40) rotate(-90)">250</text><text transform="translate(208.78 644.40) rotate(-90)">375</text><text transform="translate(215.28 644.40) rotate(-90)">500</text><text transform="translate(221.76 644.40) rotate(-90)">750</text><text transform="translate(228.25 644.40) rotate(-90)">1000</text><text transform="translate(234.75 644.40) rotate(-90)">1500</text><text transform="translate(241.23 644.40) rotate(-90)">62.5</text><text transform="translate(247.72 644.40) rotate(-90)">93.75</text><text transform="translate(254.22 644.40) rotate(-90)">125</text><text transform="translate(260.70 644.40) rotate(-90)">187.5</text><text transform="translate(267.19 644.40) rotate(-90)">250</text><text transform="translate(273.69 644.40) rotate(-90)">375</text><text transform="translate(280.18 644.40) rotate(-90)">500</text><text transform="translate(286.67 644.40) rotate(-90)">750</text><text transform="translate(293.16 644.40) rotate(-90)">1000</text><text transform="translate(299.65 644.40) rotate(-90)">1500</text><text transform="translate(306.14 644.40) rotate(-90)">62.5</text><text transform="translate(312.62 644.40) rotate(-90)">93.75</text><text transform="translate(319.12 644.40) rotate(-90)">125</text><text transform="translate(325.61 644.40) rotate(-90)">187.5</text><text transform="translate(332.10 644.40) rotate(-90)">250</text><text transform="translate(338.59 644.40) rotate(-90)">375</text><text transform="translate(345.08 644.40) rotate(-90)">500</text><text transform="translate(351.56 644.40) rotate(-90)">750</text><text transform="translate(358.06 644.40) rotate(-90)">1000</text><text transform="translate(364.55 644.40) rotate(-90)">1500</text><text transform="translate(371.04 644.40) rotate(-90)">62.5</text><text transform="translate(377.53 644.40) rotate(-90)">93.75</text><text transform="translate(384.02 644.40) rotate(-90)">125</text><text transform="translate(390.51 644.40) rotate(-90)">187.5</text><text transform="translate(397.00 644.40) rotate(-90)">250</text><text transform="translate(403.49 644.40) rotate(-90)">375</text><text transform="translate(409.98 644.40) rotate(-90)">500</text><text transform="translate(416.47 644.40) rotate(-90)">750</text><text transform="translate(422.96 644.40) rotate(-90)">1000</text><text transform="translate(429.45 644.40) rotate(-90)">1500</text><text transform="translate(435.94 644.40) rotate(-90)">62.5</text><text transform="translate(442.43 644.40) rotate(-90)">93.75</text><text transform="translate(448.92 644.40) rotate(-90)">125</text><text transform="translate(455.41 644.40) rotate(-90)">187.5</text><text transform="translate(461.90 644.40) rotate(-90)">250</text><text transform="translate(468.39 644.40) rotate(-90)">375</text><text transform="translate(474.88 644.40) rotate(-90)">500</text><text transform="translate(481.37 644.40) rotate(-90)">750</text><text transform="translate(487.86 644.40) rotate(-90)">1000</text><text transform="translate(494.35 644.40) rotate(-90)">1500</text><text transform="translate(500.84 644.40) rotate(-90)">62.5</text><text transform="translate(507.33 644.40) rotate(-90)">93.75</text><text transform="translate(513.82 644.40) rotate(-90)">125</text><text transform="translate(520.31 644.40) rotate(-90)">187.5</text><text transform="translate(526.80 644.40) rotate(-90)">250</text><text transform="translate(533.29 644.40) rotate(-90)">375</text><text transform="translate(539.78 644.40) rotate(-90)">500</text><text transform="translate(546.27 644.40) rotate(-90)">750</text><text transform="translate(552.76 644.40) rotate(-90)">1000</text><text transform="translate(559.25 644.40) rotate(-90)">1500</text><text transform="translate(565.74 644.40) rotate(-90)">62.5</text><text transform="translate(572.23 644.40) rotate(-90)">93.75</text><text transform="translate(578.72 644.40) rotate(-90)">125</text><text transform="translate(585.21 644.40) rotate(-90)">187.5</text><text transform="translate(591.70 644.40) rotate(-90)">250</text><text transform="translate(598.19 644.40) rotate(-90)">375</text><text transform="translate(604.68 644.40) rotate(-90)">500</text><text transform="translate(611.17 644.40) rotate(-90)">750</text><text transform="translate(617.66 644.40) rotate(-90)">1000</text><text transform="translate(624.15 644.40) rotate(-90)">1500</text></g>
<g font-size="7.0" font-weight="bold" fill="#000" stroke="#000" stroke-width="0.12" text-anchor="middle"><text x="38.39" y="661.30" font-size="8.4" stroke-width="0.05">C</text><text x="74.04" y="660.50">COS</text><text x="138.94" y="660.50">Q. suber</text><text x="203.84" y="660.50">COS + Q. suber</text><text x="268.74" y="660.50">Glycerin</text><text x="333.64" y="660.50">COS + Glycerin</text><text x="398.54" y="660.50">Vanillic acid</text><text x="463.44" y="660.50">COS + Vanillic acid</text><text x="528.34" y="660.50">Azabicyclo</text><text x="593.24" y="660.50">COS + Azabicyclo</text></g>
<text transform="translate(19.3 543.15) rotate(-90)" font-size="9.6" font-weight="bold" fill="#000" stroke="#000" stroke-width="0.15" text-anchor="middle">Radial growth of mycelium (mm)</text>
<text x="378.5" y="464.9" font-size="13.75" font-weight="bold" font-style="italic" fill="#000" stroke="#000" stroke-width="0.15">N. parvum</text>
<g stroke="#777" stroke-width="0.6"><rect x="35.60" y="685.92" width="5.3" height="172.88" fill="url(#gC)"/><rect x="42.09" y="695.36" width="5.3" height="163.44" fill="url(#gCOS)"/><rect x="48.58" y="721.17" width="5.3" height="137.63" fill="url(#gCOS)"/><rect x="55.07" y="745.82" width="5.3" height="112.98" fill="url(#gCOS)"/><rect x="61.56" y="769.08" width="5.3" height="89.72" fill="url(#gCOS)"/><rect x="68.05" y="790.74" width="5.3" height="68.06" fill="url(#gCOS)"/><rect x="74.54" y="803.87" width="5.3" height="54.93" fill="url(#gCOS)"/><rect x="81.03" y="830.36" width="5.3" height="28.44" fill="url(#gCOS)"/><rect x="106.99" y="685.92" width="5.3" height="172.88" fill="url(#gQ)"/><rect x="113.48" y="698.36" width="5.3" height="160.44" fill="url(#gQ)"/><rect x="119.97" y="706.42" width="5.3" height="152.38" fill="url(#gQ)"/><rect x="126.46" y="718.86" width="5.3" height="139.94" fill="url(#gQ)"/><rect x="132.95" y="742.36" width="5.3" height="116.44" fill="url(#gQ)"/><rect x="139.44" y="764.02" width="5.3" height="94.78" fill="url(#gQ)"/><rect x="145.93" y="793.27" width="5.3" height="65.53" fill="url(#gQ)"/><rect x="171.89" y="707.57" width="5.3" height="151.23" fill="url(#gCQ)"/><rect x="178.38" y="715.18" width="5.3" height="143.62" fill="url(#gCQ)"/><rect x="184.87" y="726.46" width="5.3" height="132.34" fill="url(#gCQ)"/><rect x="191.36" y="743.28" width="5.3" height="115.52" fill="url(#gCQ)"/><rect x="197.85" y="788.21" width="5.3" height="70.59" fill="url(#gCQ)"/><rect x="236.79" y="722.78" width="5.3" height="136.02" fill="url(#gG)"/><rect x="243.28" y="742.13" width="5.3" height="116.67" fill="url(#gG)"/><rect x="249.77" y="789.36" width="5.3" height="69.44" fill="url(#gG)"/><rect x="256.26" y="815.39" width="5.3" height="43.41" fill="url(#gG)"/><rect x="262.75" y="845.80" width="5.3" height="13.00" fill="url(#gG)"/><rect x="301.69" y="783.14" width="5.3" height="75.66" fill="url(#gCG)"/><rect x="308.18" y="795.58" width="5.3" height="63.22" fill="url(#gCG)"/><rect x="314.67" y="822.99" width="5.3" height="35.81" fill="url(#gCG)"/><rect x="321.16" y="842.34" width="5.3" height="16.46" fill="url(#gCG)"/><rect x="366.59" y="703.20" width="5.3" height="155.60" fill="url(#gV)"/><rect x="373.08" y="734.30" width="5.3" height="124.50" fill="url(#gV)"/><rect x="379.57" y="748.81" width="5.3" height="109.99" fill="url(#gV)"/><rect x="386.06" y="784.75" width="5.3" height="74.05" fill="url(#gV)"/><rect x="392.55" y="822.99" width="5.3" height="35.81" fill="url(#gV)"/><rect x="431.49" y="722.78" width="5.3" height="136.02" fill="url(#gCV)"/><rect x="437.98" y="757.57" width="5.3" height="101.23" fill="url(#gCV)"/><rect x="444.47" y="765.40" width="5.3" height="93.40" fill="url(#gCV)"/><rect x="450.96" y="829.44" width="5.3" height="29.36" fill="url(#gCV)"/><rect x="496.39" y="685.92" width="5.3" height="172.88" fill="url(#gA)"/><rect x="502.88" y="685.92" width="5.3" height="172.88" fill="url(#gA)"/><rect x="509.37" y="685.92" width="5.3" height="172.88" fill="url(#gA)"/><rect x="515.86" y="685.92" width="5.3" height="172.88" fill="url(#gA)"/><rect x="522.35" y="685.92" width="5.3" height="172.88" fill="url(#gA)"/><rect x="528.84" y="696.06" width="5.3" height="162.74" fill="url(#gA)"/><rect x="535.33" y="707.57" width="5.3" height="151.23" fill="url(#gA)"/><rect x="541.82" y="719.32" width="5.3" height="139.48" fill="url(#gA)"/><rect x="548.31" y="757.57" width="5.3" height="101.23" fill="url(#gA)"/><rect x="554.80" y="769.54" width="5.3" height="89.26" fill="url(#gA)"/><rect x="561.29" y="685.92" width="5.3" height="172.88" fill="url(#gCA)"/><rect x="567.78" y="698.13" width="5.3" height="160.67" fill="url(#gCA)"/><rect x="574.27" y="707.57" width="5.3" height="151.23" fill="url(#gCA)"/><rect x="580.76" y="719.32" width="5.3" height="139.48" fill="url(#gCA)"/><rect x="587.25" y="734.07" width="5.3" height="124.73" fill="url(#gCA)"/><rect x="593.74" y="746.05" width="5.3" height="112.75" fill="url(#gCA)"/><rect x="600.23" y="758.49" width="5.3" height="100.31" fill="url(#gCA)"/><rect x="606.72" y="797.19" width="5.3" height="61.61" fill="url(#gCA)"/><rect x="613.21" y="830.36" width="5.3" height="28.44" fill="url(#gCA)"/></g>
<g stroke-width="0.8" fill="none"><path d="M35.40 686.12H41.10" stroke="#505050"/><path d="M41.89 695.56H47.59" stroke="#505050"/><path d="M48.38 721.37H54.08" stroke="#505050"/><path d="M54.87 746.02H60.57" stroke="#505050"/><path d="M61.36 769.28H67.06" stroke="#505050"/><path d="M67.85 790.94H73.55" stroke="#505050"/><path d="M74.34 804.07H80.04" stroke="#505050"/><path d="M80.83 830.56H86.53" stroke="#505050"/><path d="M106.79 686.12H112.49" stroke="#a05a20"/><path d="M113.28 698.56H118.98" stroke="#a05a20"/><path d="M119.77 706.62H125.47" stroke="#a05a20"/><path d="M126.26 719.06H131.96" stroke="#a05a20"/><path d="M132.75 742.56H138.45" stroke="#a05a20"/><path d="M139.24 764.22H144.94" stroke="#a05a20"/><path d="M145.73 793.47H151.43" stroke="#a05a20"/><path d="M171.69 707.77H177.39" stroke="#a06a40"/><path d="M178.18 715.38H183.88" stroke="#a06a40"/><path d="M184.67 726.66H190.37" stroke="#a06a40"/><path d="M191.16 743.48H196.86" stroke="#a06a40"/><path d="M197.65 788.41H203.35" stroke="#a06a40"/><path d="M236.59 722.98H242.29" stroke="#303068"/><path d="M243.08 742.33H248.78" stroke="#303068"/><path d="M249.57 789.56H255.27" stroke="#303068"/><path d="M256.06 815.59H261.76" stroke="#303068"/><path d="M262.55 846.00H268.25" stroke="#303068"/><path d="M301.49 783.34H307.19" stroke="#505080"/><path d="M307.98 795.78H313.68" stroke="#505080"/><path d="M314.47 823.19H320.17" stroke="#505080"/><path d="M320.96 842.54H326.66" stroke="#505080"/><path d="M366.39 703.40H372.09" stroke="#8a7a10"/><path d="M372.88 734.50H378.58" stroke="#8a7a10"/><path d="M379.37 749.01H385.07" stroke="#8a7a10"/><path d="M385.86 784.95H391.56" stroke="#8a7a10"/><path d="M392.35 823.19H398.05" stroke="#8a7a10"/><path d="M431.29 722.98H436.99" stroke="#8a8030"/><path d="M437.78 757.77H443.48" stroke="#8a8030"/><path d="M444.27 765.60H449.97" stroke="#8a8030"/><path d="M450.76 829.64H456.46" stroke="#8a8030"/><path d="M496.19 686.12H501.89" stroke="#207040"/><path d="M502.68 686.12H508.38" stroke="#207040"/><path d="M509.17 686.12H514.87" stroke="#207040"/><path d="M515.66 686.12H521.36" stroke="#207040"/><path d="M522.15 686.12H527.85" stroke="#207040"/><path d="M528.64 696.26H534.34" stroke="#207040"/><path d="M535.13 707.77H540.83" stroke="#207040"/><path d="M541.62 719.52H547.32" stroke="#207040"/><path d="M548.11 757.77H553.81" stroke="#207040"/><path d="M554.60 769.74H560.30" stroke="#207040"/><path d="M561.09 686.12H566.79" stroke="#507050"/><path d="M567.58 698.33H573.28" stroke="#507050"/><path d="M574.07 707.77H579.77" stroke="#507050"/><path d="M580.56 719.52H586.26" stroke="#507050"/><path d="M587.05 734.27H592.75" stroke="#507050"/><path d="M593.54 746.25H599.24" stroke="#507050"/><path d="M600.03 758.69H605.73" stroke="#507050"/><path d="M606.52 797.39H612.22" stroke="#507050"/><path d="M613.01 830.56H618.71" stroke="#507050"/></g>
<g stroke="#1a1a1a" stroke-width="0.55" fill="none"><path d="M43.14 692.76H46.34M44.74 692.76V695.36" stroke="#555" stroke-width="0.45"/><path d="M44.74 695.36V697.96M43.14 697.96H46.34"/><path d="M49.63 718.57H52.83M51.23 718.57V721.17" stroke="#555" stroke-width="0.45"/><path d="M51.23 721.17V723.77M49.63 723.77H52.83"/><path d="M56.12 743.22H59.32M57.72 743.22V745.82" stroke="#555" stroke-width="0.45"/><path d="M57.72 745.82V748.42M56.12 748.42H59.32"/><path d="M62.61 766.48H65.81M64.21 766.48V769.08" stroke="#555" stroke-width="0.45"/><path d="M64.21 769.08V771.68M62.61 771.68H65.81"/><path d="M69.10 788.14H72.30M70.70 788.14V790.74" stroke="#555" stroke-width="0.45"/><path d="M70.70 790.74V793.34M69.10 793.34H72.30"/><path d="M75.59 801.27H78.79M77.19 801.27V803.87" stroke="#555" stroke-width="0.45"/><path d="M77.19 803.87V806.47M75.59 806.47H78.79"/><path d="M82.08 827.76H85.28M83.68 827.76V830.36" stroke="#555" stroke-width="0.45"/><path d="M83.68 830.36V832.96M82.08 832.96H85.28"/><path d="M114.53 695.76H117.73M116.13 695.76V698.36" stroke="#555" stroke-width="0.45"/><path d="M116.13 698.36V700.96M114.53 700.96H117.73"/><path d="M121.02 703.82H124.22M122.62 703.82V706.42" stroke="#555" stroke-width="0.45"/><path d="M122.62 706.42V709.02M121.02 709.02H124.22"/><path d="M127.51 716.26H130.71M129.11 716.26V718.86" stroke="#555" stroke-width="0.45"/><path d="M129.11 718.86V721.46M127.51 721.46H130.71"/><path d="M134.00 739.76H137.20M135.60 739.76V742.36" stroke="#555" stroke-width="0.45"/><path d="M135.60 742.36V744.96M134.00 744.96H137.20"/><path d="M140.49 761.42H143.69M142.09 761.42V764.02" stroke="#555" stroke-width="0.45"/><path d="M142.09 764.02V766.62M140.49 766.62H143.69"/><path d="M146.98 790.67H150.18M148.58 790.67V793.27" stroke="#555" stroke-width="0.45"/><path d="M148.58 793.27V795.87M146.98 795.87H150.18"/><path d="M172.94 704.97H176.14M174.54 704.97V707.57" stroke="#555" stroke-width="0.45"/><path d="M174.54 707.57V710.17M172.94 710.17H176.14"/><path d="M179.43 712.58H182.63M181.03 712.58V715.18" stroke="#555" stroke-width="0.45"/><path d="M181.03 715.18V717.78M179.43 717.78H182.63"/><path d="M185.92 723.86H189.12M187.52 723.86V726.46" stroke="#555" stroke-width="0.45"/><path d="M187.52 726.46V729.06M185.92 729.06H189.12"/><path d="M192.41 740.68H195.61M194.01 740.68V743.28" stroke="#555" stroke-width="0.45"/><path d="M194.01 743.28V745.88M192.41 745.88H195.61"/><path d="M198.90 785.61H202.10M200.50 785.61V788.21" stroke="#555" stroke-width="0.45"/><path d="M200.50 788.21V790.81M198.90 790.81H202.10"/><path d="M237.84 720.18H241.04M239.44 720.18V722.78" stroke="#555" stroke-width="0.45"/><path d="M239.44 722.78V725.38M237.84 725.38H241.04"/><path d="M244.33 739.53H247.53M245.93 739.53V742.13" stroke="#555" stroke-width="0.45"/><path d="M245.93 742.13V744.73M244.33 744.73H247.53"/><path d="M250.82 786.76H254.02M252.42 786.76V789.36" stroke="#555" stroke-width="0.45"/><path d="M252.42 789.36V791.96M250.82 791.96H254.02"/><path d="M257.31 812.79H260.51M258.91 812.79V815.39" stroke="#555" stroke-width="0.45"/><path d="M258.91 815.39V817.99M257.31 817.99H260.51"/><path d="M263.80 843.20H267.00M265.40 843.20V845.80" stroke="#555" stroke-width="0.45"/><path d="M265.40 845.80V848.40M263.80 848.40H267.00"/><path d="M302.74 780.54H305.94M304.34 780.54V783.14" stroke="#555" stroke-width="0.45"/><path d="M304.34 783.14V785.74M302.74 785.74H305.94"/><path d="M309.23 792.98H312.43M310.83 792.98V795.58" stroke="#555" stroke-width="0.45"/><path d="M310.83 795.58V798.18M309.23 798.18H312.43"/><path d="M315.72 820.39H318.92M317.32 820.39V822.99" stroke="#555" stroke-width="0.45"/><path d="M317.32 822.99V825.59M315.72 825.59H318.92"/><path d="M322.21 839.74H325.41M323.81 839.74V842.34" stroke="#555" stroke-width="0.45"/><path d="M323.81 842.34V844.94M322.21 844.94H325.41"/><path d="M367.64 700.60H370.84M369.24 700.60V703.20" stroke="#555" stroke-width="0.45"/><path d="M369.24 703.20V705.80M367.64 705.80H370.84"/><path d="M374.13 731.70H377.33M375.73 731.70V734.30" stroke="#555" stroke-width="0.45"/><path d="M375.73 734.30V736.90M374.13 736.90H377.33"/><path d="M380.62 746.21H383.82M382.22 746.21V748.81" stroke="#555" stroke-width="0.45"/><path d="M382.22 748.81V751.41M380.62 751.41H383.82"/><path d="M387.11 782.15H390.31M388.71 782.15V784.75" stroke="#555" stroke-width="0.45"/><path d="M388.71 784.75V787.35M387.11 787.35H390.31"/><path d="M393.60 820.39H396.80M395.20 820.39V822.99" stroke="#555" stroke-width="0.45"/><path d="M395.20 822.99V825.59M393.60 825.59H396.80"/><path d="M432.54 720.18H435.74M434.14 720.18V722.78" stroke="#555" stroke-width="0.45"/><path d="M434.14 722.78V725.38M432.54 725.38H435.74"/><path d="M439.03 754.97H442.23M440.63 754.97V757.57" stroke="#555" stroke-width="0.45"/><path d="M440.63 757.57V760.17M439.03 760.17H442.23"/><path d="M445.52 762.80H448.72M447.12 762.80V765.40" stroke="#555" stroke-width="0.45"/><path d="M447.12 765.40V768.00M445.52 768.00H448.72"/><path d="M452.01 826.84H455.21M453.61 826.84V829.44" stroke="#555" stroke-width="0.45"/><path d="M453.61 829.44V832.04M452.01 832.04H455.21"/><path d="M529.89 693.46H533.09M531.49 693.46V696.06" stroke="#555" stroke-width="0.45"/><path d="M531.49 696.06V698.66M529.89 698.66H533.09"/><path d="M536.38 704.97H539.58M537.98 704.97V707.57" stroke="#555" stroke-width="0.45"/><path d="M537.98 707.57V710.17M536.38 710.17H539.58"/><path d="M542.87 716.72H546.07M544.47 716.72V719.32" stroke="#555" stroke-width="0.45"/><path d="M544.47 719.32V721.92M542.87 721.92H546.07"/><path d="M549.36 754.97H552.56M550.96 754.97V757.57" stroke="#555" stroke-width="0.45"/><path d="M550.96 757.57V760.17M549.36 760.17H552.56"/><path d="M555.85 766.94H559.05M557.45 766.94V769.54" stroke="#555" stroke-width="0.45"/><path d="M557.45 769.54V772.14M555.85 772.14H559.05"/><path d="M568.83 695.53H572.03M570.43 695.53V698.13" stroke="#555" stroke-width="0.45"/><path d="M570.43 698.13V700.73M568.83 700.73H572.03"/><path d="M575.32 704.97H578.52M576.92 704.97V707.57" stroke="#555" stroke-width="0.45"/><path d="M576.92 707.57V710.17M575.32 710.17H578.52"/><path d="M581.81 716.72H585.01M583.41 716.72V719.32" stroke="#555" stroke-width="0.45"/><path d="M583.41 719.32V721.92M581.81 721.92H585.01"/><path d="M588.30 731.47H591.50M589.90 731.47V734.07" stroke="#555" stroke-width="0.45"/><path d="M589.90 734.07V736.67M588.30 736.67H591.50"/><path d="M594.79 743.45H597.99M596.39 743.45V746.05" stroke="#555" stroke-width="0.45"/><path d="M596.39 746.05V748.65M594.79 748.65H597.99"/><path d="M601.28 755.89H604.48M602.88 755.89V758.49" stroke="#555" stroke-width="0.45"/><path d="M602.88 758.49V761.09M601.28 761.09H604.48"/><path d="M607.77 794.59H610.97M609.37 794.59V797.19" stroke="#555" stroke-width="0.45"/><path d="M609.37 797.19V799.79M607.77 799.79H610.97"/><path d="M614.26 827.76H617.46M615.86 827.76V830.36" stroke="#555" stroke-width="0.45"/><path d="M615.86 830.36V832.96M614.26 832.96H617.46"/></g>
<g font-size="7" fill="#1a1a1a" text-anchor="middle"><text x="44.74" y="691.86">a</text><text x="51.23" y="717.67">b</text><text x="57.72" y="742.32">c</text><text x="64.21" y="765.58">d</text><text x="70.70" y="787.24">e</text><text x="77.19" y="800.37">f</text><text x="83.68" y="826.86">g</text><text x="90.17" y="857.30">h</text><text x="96.66" y="857.30">h</text><text x="103.15" y="857.30">h</text><text x="109.64" y="684.77">a</text><text x="116.13" y="694.86">b</text><text x="122.62" y="702.92">c</text><text x="129.11" y="715.36">d</text><text x="135.60" y="738.86">e</text><text x="142.09" y="760.52">f</text><text x="148.58" y="789.77">g</text><text x="155.07" y="857.30">h</text><text x="161.56" y="857.30">h</text><text x="168.05" y="857.30">h</text><text x="174.54" y="704.07">a</text><text x="181.03" y="711.68">b</text><text x="187.52" y="722.96">c</text><text x="194.01" y="739.78">d</text><text x="200.50" y="784.71">e</text><text x="206.99" y="857.30">f</text><text x="213.48" y="857.30">f</text><text x="219.97" y="857.30">f</text><text x="226.46" y="857.30">f</text><text x="232.95" y="857.30">f</text><text x="239.44" y="719.28">a</text><text x="245.93" y="738.63">b</text><text x="252.42" y="785.86">c</text><text x="258.91" y="811.89">d</text><text x="265.40" y="842.30">e</text><text x="271.89" y="857.30">f</text><text x="278.38" y="857.30">f</text><text x="284.87" y="857.30">f</text><text x="291.36" y="857.30">f</text><text x="297.85" y="857.30">f</text><text x="304.34" y="779.64">a</text><text x="310.83" y="792.08">b</text><text x="317.32" y="819.49">c</text><text x="323.81" y="838.84">d</text><text x="330.30" y="857.30">e</text><text x="336.79" y="857.30">e</text><text x="343.28" y="857.30">e</text><text x="349.77" y="857.30">e</text><text x="356.26" y="857.30">e</text><text x="362.75" y="857.30">e</text><text x="369.24" y="699.70">a</text><text x="375.73" y="730.80">b</text><text x="382.22" y="745.31">c</text><text x="388.71" y="781.25">d</text><text x="395.20" y="819.49">e</text><text x="401.69" y="857.30">f</text><text x="408.18" y="857.30">f</text><text x="414.67" y="857.30">f</text><text x="421.16" y="857.30">f</text><text x="427.65" y="857.30">f</text><text x="434.14" y="719.28">a</text><text x="440.63" y="754.07">b</text><text x="447.12" y="761.90">c</text><text x="453.61" y="825.94">d</text><text x="460.10" y="857.30">e</text><text x="466.59" y="857.30">e</text><text x="473.08" y="857.30">e</text><text x="479.57" y="857.30">e</text><text x="486.06" y="857.30">e</text><text x="492.55" y="857.30">e</text><text x="499.04" y="684.77">a</text><text x="505.53" y="684.77">a</text><text x="512.02" y="684.77">a</text><text x="518.51" y="684.77">a</text><text x="525.00" y="684.77">a</text><text x="531.49" y="692.56">b</text><text x="537.98" y="704.07">c</text><text x="544.47" y="715.82">d</text><text x="550.96" y="754.07">e</text><text x="557.45" y="766.04">f</text><text x="563.94" y="684.77">a</text><text x="570.43" y="694.63">b</text><text x="576.92" y="704.07">c</text><text x="583.41" y="715.82">d</text><text x="589.90" y="730.57">e</text><text x="596.39" y="742.55">f</text><text x="602.88" y="754.99">g</text><text x="609.37" y="793.69">h</text><text x="615.86" y="826.86">i</text><text x="622.35" y="857.30">j</text></g>
<path d="M35.4 674.4H625.5M35.4 858.8H625.5M35.4 876.7H625.5M35.4 888.2H625.5M35.4 674.4V888.2M625.5 674.4V888.2M41.59 858.8V876.7M48.08 858.8V876.7M54.57 858.8V876.7M61.06 858.8V876.7M67.55 858.8V876.7M74.04 858.8V876.7M80.53 858.8V876.7M87.02 858.8V876.7M93.51 858.8V876.7M100.00 858.8V876.7M106.49 858.8V876.7M112.98 858.8V876.7M119.47 858.8V876.7M125.96 858.8V876.7M132.45 858.8V876.7M138.94 858.8V876.7M145.43 858.8V876.7M151.92 858.8V876.7M158.41 858.8V876.7M164.90 858.8V876.7M171.39 858.8V876.7M177.88 858.8V876.7M184.37 858.8V876.7M190.86 858.8V876.7M197.35 858.8V876.7M203.84 858.8V876.7M210.33 858.8V876.7M216.82 858.8V876.7M223.31 858.8V876.7M229.80 858.8V876.7M236.29 858.8V876.7M242.78 858.8V876.7M249.27 858.8V876.7M255.76 858.8V876.7M262.25 858.8V876.7M268.74 858.8V876.7M275.23 858.8V876.7M281.72 858.8V876.7M288.21 858.8V876.7M294.70 858.8V876.7M301.19 858.8V876.7M307.68 858.8V876.7M314.17 858.8V876.7M320.66 858.8V876.7M327.15 858.8V876.7M333.64 858.8V876.7M340.13 858.8V876.7M346.62 858.8V876.7M353.11 858.8V876.7M359.60 858.8V876.7M366.09 858.8V876.7M372.58 858.8V876.7M379.07 858.8V876.7M385.56 858.8V876.7M392.05 858.8V876.7M398.54 858.8V876.7M405.03 858.8V876.7M411.52 858.8V876.7M418.01 858.8V876.7M424.50 858.8V876.7M430.99 858.8V876.7M437.48 858.8V876.7M443.97 858.8V876.7M450.46 858.8V876.7M456.95 858.8V876.7M463.44 858.8V876.7M469.93 858.8V876.7M476.42 858.8V876.7M482.91 858.8V876.7M489.40 858.8V876.7M495.89 858.8V876.7M502.38 858.8V876.7M508.87 858.8V876.7M515.36 858.8V876.7M521.85 858.8V876.7M528.34 858.8V876.7M534.83 858.8V876.7M541.32 858.8V876.7M547.81 858.8V876.7M554.30 858.8V876.7M560.79 858.8V876.7M567.28 858.8V876.7M573.77 858.8V876.7M580.26 858.8V876.7M586.75 858.8V876.7M593.24 858.8V876.7M599.73 858.8V876.7M606.22 858.8V876.7M612.71 858.8V876.7M619.20 858.8V876.7M41.59 876.7V888.2M106.49 876.7V888.2M171.39 876.7V888.2M236.29 876.7V888.2M301.19 876.7V888.2M366.09 876.7V888.2M430.99 876.7V888.2M495.89 876.7V888.2M560.79 876.7V888.2M35.4 858.70h3.4M35.4 835.66h1.6M35.4 812.62h3.4M35.4 789.59h1.6M35.4 766.55h3.4M35.4 743.51h1.6M35.4 720.48h3.4M35.4 697.44h1.6M35.4 674.40h3.4" stroke="#1a1a1a" stroke-width="0.9" fill="none"/>
<g font-size="8" fill="#111" text-anchor="end"><text x="31.4" y="861.90">0</text><text x="31.4" y="815.83">20</text><text x="31.4" y="769.75">40</text><text x="31.4" y="723.68">60</text><text x="31.4" y="677.60">80</text></g>
<g font-size="6.7" fill="#2a2a2a" text-anchor="middle"><text transform="translate(40.05 867.75) rotate(-90)">0</text><text transform="translate(46.54 867.75) rotate(-90)">62.5</text><text transform="translate(53.02 867.75) rotate(-90)">93.75</text><text transform="translate(59.52 867.75) rotate(-90)">125</text><text transform="translate(66.01 867.75) rotate(-90)">187.5</text><text transform="translate(72.50 867.75) rotate(-90)">250</text><text transform="translate(78.98 867.75) rotate(-90)">375</text><text transform="translate(85.48 867.75) rotate(-90)">500</text><text transform="translate(91.97 867.75) rotate(-90)">750</text><text transform="translate(98.46 867.75) rotate(-90)">1000</text><text transform="translate(104.95 867.75) rotate(-90)">1500</text><text transform="translate(111.44 867.75) rotate(-90)">62.5</text><text transform="translate(117.92 867.75) rotate(-90)">93.75</text><text transform="translate(124.42 867.75) rotate(-90)">125</text><text transform="translate(130.91 867.75) rotate(-90)">187.5</text><text transform="translate(137.40 867.75) rotate(-90)">250</text><text transform="translate(143.88 867.75) rotate(-90)">375</text><text transform="translate(150.38 867.75) rotate(-90)">500</text><text transform="translate(156.87 867.75) rotate(-90)">750</text><text transform="translate(163.35 867.75) rotate(-90)">1000</text><text transform="translate(169.84 867.75) rotate(-90)">1500</text><text transform="translate(176.33 867.75) rotate(-90)">62.5</text><text transform="translate(182.82 867.75) rotate(-90)">93.75</text><text transform="translate(189.31 867.75) rotate(-90)">125</text><text transform="translate(195.80 867.75) rotate(-90)">187.5</text><text transform="translate(202.29 867.75) rotate(-90)">250</text><text transform="translate(208.78 867.75) rotate(-90)">375</text><text transform="translate(215.28 867.75) rotate(-90)">500</text><text transform="translate(221.76 867.75) rotate(-90)">750</text><text transform="translate(228.25 867.75) rotate(-90)">1000</text><text transform="translate(234.75 867.75) rotate(-90)">1500</text><text transform="translate(241.23 867.75) rotate(-90)">62.5</text><text transform="translate(247.72 867.75) rotate(-90)">93.75</text><text transform="translate(254.22 867.75) rotate(-90)">125</text><text transform="translate(260.70 867.75) rotate(-90)">187.5</text><text transform="translate(267.19 867.75) rotate(-90)">250</text><text transform="translate(273.69 867.75) rotate(-90)">375</text><text transform="translate(280.18 867.75) rotate(-90)">500</text><text transform="translate(286.67 867.75) rotate(-90)">750</text><text transform="translate(293.16 867.75) rotate(-90)">1000</text><text transform="translate(299.65 867.75) rotate(-90)">1500</text><text transform="translate(306.14 867.75) rotate(-90)">62.5</text><text transform="translate(312.62 867.75) rotate(-90)">93.75</text><text transform="translate(319.12 867.75) rotate(-90)">125</text><text transform="translate(325.61 867.75) rotate(-90)">187.5</text><text transform="translate(332.10 867.75) rotate(-90)">250</text><text transform="translate(338.59 867.75) rotate(-90)">375</text><text transform="translate(345.08 867.75) rotate(-90)">500</text><text transform="translate(351.56 867.75) rotate(-90)">750</text><text transform="translate(358.06 867.75) rotate(-90)">1000</text><text transform="translate(364.55 867.75) rotate(-90)">1500</text><text transform="translate(371.04 867.75) rotate(-90)">62.5</text><text transform="translate(377.53 867.75) rotate(-90)">93.75</text><text transform="translate(384.02 867.75) rotate(-90)">125</text><text transform="translate(390.51 867.75) rotate(-90)">187.5</text><text transform="translate(397.00 867.75) rotate(-90)">250</text><text transform="translate(403.49 867.75) rotate(-90)">375</text><text transform="translate(409.98 867.75) rotate(-90)">500</text><text transform="translate(416.47 867.75) rotate(-90)">750</text><text transform="translate(422.96 867.75) rotate(-90)">1000</text><text transform="translate(429.45 867.75) rotate(-90)">1500</text><text transform="translate(435.94 867.75) rotate(-90)">62.5</text><text transform="translate(442.43 867.75) rotate(-90)">93.75</text><text transform="translate(448.92 867.75) rotate(-90)">125</text><text transform="translate(455.41 867.75) rotate(-90)">187.5</text><text transform="translate(461.90 867.75) rotate(-90)">250</text><text transform="translate(468.39 867.75) rotate(-90)">375</text><text transform="translate(474.88 867.75) rotate(-90)">500</text><text transform="translate(481.37 867.75) rotate(-90)">750</text><text transform="translate(487.86 867.75) rotate(-90)">1000</text><text transform="translate(494.35 867.75) rotate(-90)">1500</text><text transform="translate(500.84 867.75) rotate(-90)">62.5</text><text transform="translate(507.33 867.75) rotate(-90)">93.75</text><text transform="translate(513.82 867.75) rotate(-90)">125</text><text transform="translate(520.31 867.75) rotate(-90)">187.5</text><text transform="translate(526.80 867.75) rotate(-90)">250</text><text transform="translate(533.29 867.75) rotate(-90)">375</text><text transform="translate(539.78 867.75) rotate(-90)">500</text><text transform="translate(546.27 867.75) rotate(-90)">750</text><text transform="translate(552.76 867.75) rotate(-90)">1000</text><text transform="translate(559.25 867.75) rotate(-90)">1500</text><text transform="translate(565.74 867.75) rotate(-90)">62.5</text><text transform="translate(572.23 867.75) rotate(-90)">93.75</text><text transform="translate(578.72 867.75) rotate(-90)">125</text><text transform="translate(585.21 867.75) rotate(-90)">187.5</text><text transform="translate(591.70 867.75) rotate(-90)">250</text><text transform="translate(598.19 867.75) rotate(-90)">375</text><text transform="translate(604.68 867.75) rotate(-90)">500</text><text transform="translate(611.17 867.75) rotate(-90)">750</text><text transform="translate(617.66 867.75) rotate(-90)">1000</text><text transform="translate(624.15 867.75) rotate(-90)">1500</text></g>
<g font-size="7.0" font-weight="bold" fill="#000" stroke="#000" stroke-width="0.12" text-anchor="middle"><text x="38.39" y="885.10" font-size="8.4" stroke-width="0.05">C</text><text x="74.04" y="884.30">COS</text><text x="138.94" y="884.30">Q. suber</text><text x="203.84" y="884.30">COS + Q. suber</text><text x="268.74" y="884.30">Glycerin</text><text x="333.64" y="884.30">COS + Glycerin</text><text x="398.54" y="884.30">Vanillic acid</text><text x="463.44" y="884.30">COS + Vanillic acid</text><text x="528.34" y="884.30">Azabicyclo</text><text x="593.24" y="884.30">COS + Azabicyclo</text></g>
<text transform="translate(19.3 766.55) rotate(-90)" font-size="9.6" font-weight="bold" fill="#000" stroke="#000" stroke-width="0.15" text-anchor="middle">Radial growth of mycelium (mm)</text>
<text x="377.8" y="693.7" font-size="13.75" font-weight="bold" font-style="italic" fill="#000" stroke="#000" stroke-width="0.15">P. cactorum</text>
</svg></body></html>
